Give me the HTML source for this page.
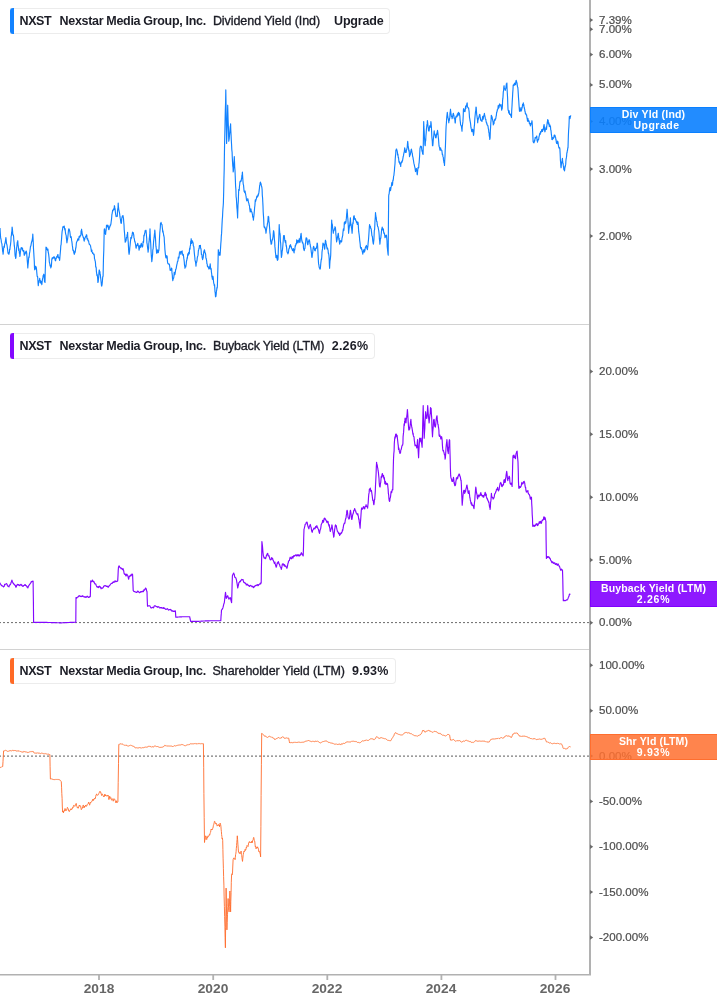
<!DOCTYPE html>
<html><head><meta charset="utf-8"><title>NXST yields</title>
<style>
html,body{margin:0;padding:0;background:#fff;}
body{width:717px;height:1005px;position:relative;overflow:hidden;font-family:"Liberation Sans",Arial,sans-serif;}
.lg{position:absolute;left:10px;height:24px;border:1px solid #ececec;border-left:none;border-radius:0 4px 4px 0;background:#fff;box-sizing:content-box;}
.lg .bar{position:absolute;left:0;top:-1px;width:4px;height:26px;border-radius:3px 0 0 3px;}
.lg span{position:absolute;top:5px;font-size:12.5px;line-height:14px;color:#1c1d26;white-space:nowrap;-webkit-text-stroke:.35px #1c1d26;}
.lg span.b{-webkit-text-stroke:0;}
.lg .b{font-weight:bold;}
.yl{position:absolute;left:599px;transform:scaleX(1.05);transform-origin:0 0;-webkit-text-stroke:.2px #4d4d4d;font-size:11px;line-height:12px;color:#4d4d4d;white-space:nowrap;}
.vb{position:absolute;left:590px;width:127px;height:26px;box-sizing:border-box;border:1px solid;border-right:none;color:#fff;font-weight:bold;font-size:10.5px;line-height:11px;text-align:center;}
.vb div{padding-top:1px;margin-left:-1px;}
.xl{position:absolute;top:982.5px;font-size:12.5px;transform:scaleX(1.1);transform-origin:50% 0;font-weight:bold;color:#666;line-height:13px;white-space:nowrap;}
</style></head><body>

<svg width="717" height="1005" viewBox="0 0 717 1005" style="position:absolute;left:0;top:0">
<rect x="0" y="324" width="589" height="1" fill="#d2d2d2"/>
<rect x="0" y="649" width="589" height="1" fill="#d2d2d2"/>
<line x1="0" y1="622.6" x2="589" y2="622.6" stroke="#6a6a6a" stroke-width="1" stroke-dasharray="2 2" stroke-dashoffset="1"/>
<line x1="0" y1="756.1" x2="589" y2="756.1" stroke="#5a5a5a" stroke-width="1" stroke-dasharray="2 2" stroke-dashoffset="1"/>
<polyline points="0.0,228.1 0.2,231.9 0.5,236.0 0.7,238.2 1.0,239.4 1.2,240.2 1.4,242.4 1.7,243.2 1.9,243.5 2.1,245.9 2.4,248.3 2.6,251.1 2.9,252.1 3.1,254.3 3.3,252.4 3.6,248.6 3.8,247.5 4.0,246.1 4.3,247.4 4.5,245.8 4.7,243.8 5.0,243.6 5.2,242.0 5.4,241.3 5.7,239.0 5.9,237.5 6.2,240.3 6.4,242.7 6.7,244.3 6.9,244.4 7.2,246.5 7.4,248.0 7.7,250.4 7.9,252.2 8.2,253.5 8.4,253.4 8.7,253.5 8.9,254.3 9.2,252.8 9.4,252.2 9.6,249.2 9.9,249.4 10.1,246.9 10.4,245.3 10.6,243.8 10.9,241.0 11.1,236.6 11.4,235.5 11.6,232.6 11.9,231.2 12.1,227.1 12.3,228.2 12.6,231.5 12.8,235.0 13.1,235.0 13.3,234.9 13.6,236.5 13.8,240.0 14.1,242.8 14.3,245.7 14.5,247.0 14.8,250.3 15.0,254.3 15.2,256.3 15.5,256.9 15.7,258.5 15.9,257.6 16.2,253.4 16.4,251.4 16.6,248.2 16.9,246.1 17.1,243.9 17.3,242.0 17.6,242.1 17.8,240.7 18.0,244.5 18.3,246.4 18.5,247.9 18.7,250.5 19.0,248.9 19.2,250.9 19.4,253.2 19.7,253.7 19.9,256.4 20.1,255.3 20.4,251.6 20.6,250.9 20.8,249.2 21.1,248.2 21.3,247.5 21.5,248.7 21.8,248.5 22.0,248.0 22.2,249.4 22.5,248.0 22.7,250.5 22.9,250.0 23.2,251.5 23.4,250.9 23.6,250.5 23.9,250.9 24.1,254.3 24.3,255.3 24.6,254.6 24.8,254.3 25.0,252.8 25.3,252.8 25.5,252.2 25.7,253.2 26.0,251.5 26.2,251.1 26.4,252.0 26.7,253.1 26.9,256.0 27.1,258.1 27.3,260.9 27.6,264.4 27.8,267.9 28.1,264.2 28.3,263.0 28.6,258.8 28.8,256.9 29.1,257.4 29.3,255.3 29.5,253.3 29.8,251.9 30.0,250.4 30.2,248.9 30.5,246.3 30.7,246.2 30.9,245.8 31.2,243.9 31.4,242.8 31.6,241.9 31.9,241.4 32.1,240.2 32.3,239.3 32.6,237.2 32.8,234.0 33.0,237.6 33.3,243.2 33.5,248.8 33.8,253.2 34.0,256.8 34.3,261.5 34.5,267.9 34.7,269.8 35.0,269.1 35.2,269.2 35.4,267.5 35.7,266.2 35.9,266.6 36.1,266.8 36.4,268.2 36.6,270.0 36.8,272.6 37.1,275.8 37.3,276.5 37.6,276.6 37.8,278.7 38.1,283.7 38.3,285.6 38.5,283.0 38.8,282.1 39.0,282.8 39.2,280.3 39.5,280.2 39.7,278.3 39.9,279.7 40.2,280.5 40.4,280.7 40.6,283.0 40.9,282.3 41.1,281.2 41.3,283.3 41.6,282.0 41.8,284.6 42.0,283.2 42.3,280.5 42.5,279.1 42.8,277.9 43.0,276.8 43.3,275.2 43.5,275.2 43.8,274.2 44.0,275.5 44.2,277.1 44.5,281.5 44.8,280.9 45.0,282.5 45.2,272.4 45.5,262.9 45.8,255.1 46.0,247.0 46.2,248.6 46.5,247.6 46.7,247.7 46.9,249.0 47.2,249.9 47.4,249.2 47.6,250.4 47.9,249.0 48.1,251.1 48.3,252.7 48.6,253.9 48.8,255.6 49.1,258.1 49.3,261.8 49.6,263.0 49.8,263.9 50.1,266.0 50.3,266.3 50.6,265.4 50.8,267.9 51.0,266.3 51.3,266.7 51.5,264.3 51.8,259.4 52.0,258.7 52.3,257.8 52.5,258.8 52.8,258.4 53.0,257.7 53.3,257.4 53.5,257.4 53.8,258.0 54.0,256.7 54.2,257.9 54.5,257.3 54.7,257.2 54.9,258.6 55.2,260.3 55.4,259.5 55.6,260.8 55.9,258.7 56.1,258.5 56.3,258.4 56.6,257.4 56.8,256.3 57.0,257.3 57.3,257.1 57.5,256.4 57.7,254.8 58.0,254.6 58.2,256.8 58.4,257.8 58.7,257.3 58.9,257.3 59.1,257.6 59.4,259.2 59.6,260.5 59.8,258.7 60.1,254.6 60.3,252.8 60.6,249.1 60.8,245.6 61.1,244.8 61.3,241.8 61.6,238.5 61.8,235.2 62.1,231.6 62.3,230.5 62.6,229.2 62.8,227.1 63.0,226.7 63.3,227.4 63.5,226.7 63.7,226.6 64.0,226.5 64.2,226.0 64.4,227.5 64.7,229.1 64.9,230.2 65.2,228.7 65.4,232.2 65.7,234.1 65.9,234.6 66.2,235.6 66.4,238.1 66.7,240.7 66.9,242.8 67.1,241.3 67.4,239.7 67.6,239.1 67.8,237.3 68.1,234.5 68.3,232.0 68.5,230.2 68.8,228.9 69.0,230.2 69.2,229.1 69.5,230.5 69.7,231.1 69.9,232.2 70.2,234.7 70.4,237.0 70.6,237.5 70.9,237.5 71.1,236.5 71.3,237.6 71.6,240.4 71.8,241.2 72.1,243.3 72.3,245.4 72.6,247.1 72.8,249.7 73.1,250.7 73.3,250.8 73.6,250.4 73.8,252.8 74.1,253.5 74.3,254.3 74.5,254.0 74.8,251.6 75.0,252.6 75.2,252.1 75.5,250.0 75.7,247.8 75.9,247.9 76.2,245.0 76.4,242.8 76.6,242.1 76.9,241.7 77.1,241.0 77.4,240.8 77.6,239.7 77.8,238.8 78.1,239.8 78.3,239.9 78.5,238.6 78.8,240.2 79.0,236.9 79.3,236.3 79.5,236.5 79.7,237.2 80.0,236.8 80.2,235.7 80.4,235.9 80.7,235.1 80.9,235.1 81.1,230.9 81.4,230.8 81.6,229.2 81.8,231.2 82.1,232.9 82.3,234.5 82.5,234.7 82.8,236.0 83.0,236.3 83.2,237.3 83.5,237.9 83.7,237.5 83.9,240.1 84.2,241.2 84.4,238.6 84.7,239.8 84.9,238.1 85.1,237.8 85.4,237.2 85.6,236.5 85.8,236.9 86.1,236.6 86.3,234.8 86.6,234.8 86.8,235.4 87.0,238.6 87.3,239.1 87.5,238.5 87.8,238.9 88.0,240.7 88.3,240.5 88.5,240.5 88.8,242.2 89.0,243.1 89.3,244.4 89.5,244.5 89.8,244.4 90.0,244.9 90.2,245.4 90.5,245.7 90.7,247.0 91.0,248.5 91.2,249.9 91.4,251.3 91.7,250.8 91.9,250.1 92.1,251.9 92.4,252.6 92.6,253.5 92.9,252.7 93.1,253.2 93.3,253.8 93.6,254.1 93.8,254.7 94.1,254.2 94.3,255.8 94.5,258.7 94.8,259.2 95.0,260.8 95.2,260.8 95.5,263.1 95.7,266.9 96.0,266.8 96.2,267.9 96.4,271.5 96.7,273.6 96.9,275.5 97.2,274.5 97.4,276.0 97.7,278.9 97.9,282.5 98.2,281.8 98.4,279.5 98.7,277.0 98.9,273.1 99.2,270.1 99.4,270.0 99.6,271.5 99.9,271.5 100.1,274.8 100.3,274.3 100.6,277.7 100.8,278.9 101.0,281.0 101.3,283.6 101.5,285.6 101.7,286.1 102.0,284.9 102.2,283.3 102.4,281.3 102.6,278.2 102.9,276.1 103.1,276.2 103.3,266.5 103.5,257.5 103.8,250.2 104.0,240.4 104.2,230.2 104.4,228.9 104.7,229.0 104.9,232.3 105.1,233.4 105.4,233.6 105.6,234.4 105.8,231.7 106.1,230.3 106.3,228.3 106.5,225.2 106.8,226.0 107.0,226.9 107.2,226.4 107.5,226.6 107.7,225.0 107.9,225.3 108.2,225.9 108.4,227.6 108.6,229.3 108.9,229.6 109.1,229.1 109.3,227.7 109.6,226.6 109.8,227.1 110.0,226.3 110.3,224.8 110.5,225.4 110.7,224.8 111.0,223.3 111.2,221.5 111.4,220.1 111.7,217.3 111.9,214.5 112.1,213.8 112.4,211.9 112.6,210.4 112.9,210.9 113.1,209.5 113.4,210.0 113.6,208.9 113.9,209.7 114.1,209.2 114.4,205.7 114.6,206.2 114.8,208.5 115.1,208.5 115.3,211.2 115.6,214.0 115.8,214.8 116.1,216.6 116.3,215.8 116.6,216.2 116.8,216.2 117.0,216.3 117.3,216.3 117.5,211.6 117.7,209.2 118.0,208.0 118.2,203.0 118.4,206.0 118.7,209.1 118.9,210.1 119.2,211.6 119.4,212.4 119.7,214.3 119.9,216.2 120.2,218.2 120.4,218.9 120.7,221.4 120.9,222.9 121.1,223.4 121.4,223.1 121.6,220.5 121.8,217.9 122.1,217.3 122.3,216.0 122.5,215.9 122.8,216.3 123.0,215.6 123.2,216.8 123.5,218.6 123.8,222.7 124.0,224.7 124.2,229.5 124.5,232.7 124.8,236.8 125.0,239.0 125.2,242.2 125.5,241.7 125.7,240.8 126.0,241.0 126.2,239.2 126.4,237.6 126.7,236.9 126.9,236.4 127.1,234.7 127.4,235.0 127.6,232.3 127.8,237.9 128.1,240.3 128.3,243.4 128.6,249.4 128.8,252.3 129.1,254.3 129.3,253.0 129.6,250.4 129.8,247.6 130.1,245.3 130.3,242.9 130.6,240.2 130.8,237.5 131.1,238.9 131.3,237.4 131.6,238.0 131.8,235.6 132.1,235.6 132.3,233.4 132.6,232.1 132.8,232.3 133.0,233.4 133.3,232.7 133.5,233.8 133.8,235.4 134.0,238.0 134.3,238.5 134.5,239.9 134.8,241.8 135.0,241.5 135.3,243.2 135.5,243.9 135.8,246.3 136.0,248.0 136.2,248.2 136.5,245.4 136.7,245.7 137.0,245.6 137.2,244.8 137.4,244.5 137.7,243.3 137.9,243.9 138.1,245.1 138.4,246.3 138.6,246.0 138.9,248.6 139.1,250.1 139.3,248.6 139.6,248.1 139.8,245.7 140.1,245.3 140.3,246.0 140.6,247.3 140.8,246.5 141.1,243.9 141.3,243.4 141.6,244.9 141.8,244.8 142.1,246.2 142.3,247.0 142.5,247.0 142.8,245.7 143.0,242.7 143.2,241.3 143.5,242.5 143.7,239.7 143.9,235.3 144.2,235.9 144.4,234.4 144.6,233.5 144.9,232.7 145.1,230.7 145.3,231.5 145.5,231.7 145.8,230.8 146.0,230.2 146.2,232.2 146.5,236.1 146.7,238.4 146.9,242.8 147.2,244.2 147.4,246.0 147.6,247.9 147.9,249.8 148.1,252.2 148.3,250.1 148.6,248.3 148.8,243.5 149.1,241.7 149.3,238.4 149.5,237.0 149.8,233.4 150.0,228.9 150.2,234.3 150.4,239.4 150.7,243.2 150.9,247.5 151.1,252.1 151.4,256.8 151.6,258.9 151.8,261.7 152.1,259.4 152.3,257.4 152.6,254.4 152.8,249.7 153.1,249.1 153.3,246.4 153.6,241.4 153.8,239.9 154.1,237.7 154.3,235.4 154.6,232.9 154.8,230.0 155.0,231.8 155.2,235.0 155.5,238.6 155.7,242.5 155.9,246.2 156.2,248.0 156.4,250.3 156.6,253.0 156.8,253.3 157.1,252.7 157.3,250.9 157.6,249.9 157.8,250.8 158.1,251.4 158.3,252.7 158.6,250.8 158.8,250.8 159.0,248.6 159.3,242.7 159.5,238.0 159.8,232.5 160.0,230.8 160.3,227.5 160.5,223.4 160.8,223.0 161.0,222.4 161.2,223.0 161.5,224.0 161.8,224.6 162.0,224.5 162.2,226.8 162.5,229.1 162.7,232.0 163.0,230.9 163.2,232.6 163.5,234.0 163.7,235.5 164.0,236.5 164.2,237.7 164.4,241.9 164.7,245.7 164.9,249.5 165.1,251.6 165.3,253.6 165.6,256.2 165.8,257.4 166.0,257.9 166.3,258.0 166.5,256.9 166.7,255.6 167.0,256.2 167.2,256.7 167.4,260.7 167.7,263.1 167.9,263.3 168.1,263.8 168.4,263.7 168.6,263.9 168.8,264.0 169.1,264.4 169.3,264.2 169.6,265.8 169.8,267.1 170.1,270.2 170.3,269.0 170.6,270.5 170.8,270.5 171.0,269.1 171.3,269.4 171.5,268.0 171.8,268.6 172.0,272.9 172.3,275.3 172.5,278.4 172.8,280.6 173.0,279.3 173.2,278.9 173.5,278.2 173.7,277.9 174.0,275.7 174.2,272.2 174.5,274.1 174.7,274.7 175.0,274.2 175.2,272.7 175.4,271.8 175.7,269.1 175.9,269.3 176.2,268.4 176.4,267.1 176.7,265.4 176.9,264.3 177.2,263.3 177.4,261.7 177.6,261.8 177.9,260.8 178.1,259.5 178.3,257.2 178.6,257.6 178.8,258.1 179.0,257.7 179.3,254.2 179.5,252.5 179.7,252.6 180.0,251.4 180.2,251.9 180.4,251.8 180.7,253.3 180.9,254.5 181.1,251.8 181.4,251.7 181.6,251.9 181.9,251.5 182.1,250.8 182.3,253.4 182.6,253.7 182.8,255.2 183.0,255.4 183.3,254.6 183.5,256.0 183.8,258.4 184.0,259.5 184.3,262.1 184.5,265.1 184.8,266.4 185.0,268.3 185.2,266.0 185.5,266.0 185.7,267.0 185.9,266.2 186.2,264.2 186.4,261.9 186.7,260.2 186.9,260.0 187.1,257.7 187.4,258.2 187.6,255.3 187.8,253.9 188.1,254.2 188.3,255.2 188.5,253.0 188.8,252.3 189.0,253.9 189.3,253.7 189.5,249.2 189.8,247.9 190.0,249.2 190.2,246.0 190.5,245.5 190.7,241.1 191.0,241.5 191.2,238.7 191.4,241.0 191.7,243.5 191.9,241.1 192.1,240.5 192.4,242.2 192.6,241.5 192.9,242.7 193.1,242.7 193.3,245.7 193.6,246.3 193.8,246.4 194.0,249.3 194.3,252.9 194.5,254.8 194.8,257.2 195.0,259.9 195.3,261.3 195.5,261.8 195.8,264.5 196.0,266.1 196.2,263.0 196.5,262.7 196.7,261.9 197.0,260.7 197.2,258.4 197.5,256.7 197.7,256.2 198.0,255.4 198.2,253.0 198.4,250.5 198.7,249.7 198.9,248.6 199.2,248.4 199.4,245.6 199.7,245.5 199.9,246.5 200.2,246.4 200.4,245.3 200.6,248.3 200.9,248.5 201.1,249.8 201.4,254.4 201.6,254.1 201.9,254.5 202.1,257.4 202.4,258.5 202.6,259.6 202.8,257.1 203.1,258.2 203.3,256.3 203.5,254.9 203.8,251.4 204.0,251.3 204.2,250.3 204.5,249.8 204.7,250.8 204.9,252.6 205.2,252.7 205.4,253.1 205.7,254.8 205.9,258.2 206.2,258.3 206.4,259.6 206.7,261.1 206.9,263.6 207.2,264.0 207.4,266.1 207.6,266.9 207.9,266.7 208.1,266.4 208.3,267.0 208.6,267.5 208.8,269.0 209.0,267.4 209.3,268.8 209.5,268.3 209.7,266.6 210.0,265.7 210.2,263.9 210.4,265.7 210.7,269.2 210.9,268.4 211.2,268.9 211.4,272.0 211.7,273.8 211.9,276.9 212.2,277.3 212.4,279.3 212.7,276.6 212.9,276.2 213.2,277.9 213.4,280.2 213.7,283.0 213.9,283.6 214.1,284.3 214.3,285.6 214.6,284.9 214.8,288.5 215.0,291.9 215.2,292.5 215.5,296.7 215.7,296.8 215.9,296.4 216.2,294.2 216.4,290.9 216.7,290.3 216.9,287.6 217.2,288.1 217.4,285.8 217.6,277.2 217.9,267.8 218.1,259.3 218.3,249.7 218.5,251.0 218.8,252.0 219.0,252.3 219.2,252.3 219.4,255.1 219.7,254.4 219.9,254.0 220.1,255.2 220.3,252.2 220.6,247.1 220.8,243.9 221.1,240.4 221.3,236.1 221.6,233.4 221.8,228.9 222.0,224.6 222.3,219.1 222.5,217.1 222.7,212.7 222.9,209.3 223.2,205.7 223.4,202.6 223.7,190.9 223.9,180.4 224.2,169.1 224.4,154.4 224.6,143.2 224.9,129.8 225.1,119.4 225.3,111.0 225.6,101.9 225.8,89.9 226.0,102.2 226.2,115.7 226.4,130.2 226.6,143.5 226.8,138.2 227.0,130.8 227.3,122.8 227.5,113.6 227.7,105.2 227.9,112.6 228.1,119.6 228.4,127.2 228.6,135.9 228.8,141.3 229.0,139.6 229.2,139.0 229.5,135.2 229.7,133.0 229.9,130.5 230.2,127.0 230.4,126.2 230.6,123.8 230.8,130.1 231.1,135.5 231.3,140.0 231.6,145.2 231.8,149.6 232.1,152.3 232.3,157.5 232.5,161.4 232.8,166.2 233.0,167.3 233.2,172.0 233.4,170.5 233.6,167.8 233.9,162.5 234.1,160.1 234.3,156.6 234.5,161.5 234.7,166.7 235.0,170.6 235.2,175.6 235.4,180.7 235.6,186.3 235.9,189.8 236.1,196.6 236.4,198.7 236.6,202.3 236.9,207.6 237.1,209.2 237.4,213.7 237.6,217.9 237.8,211.3 238.0,205.2 238.3,201.4 238.5,195.0 238.7,189.5 238.9,189.4 239.2,190.4 239.4,187.0 239.7,184.5 239.9,182.1 240.2,181.1 240.4,181.3 240.7,181.7 240.9,180.7 241.2,180.9 241.4,179.0 241.7,178.2 241.9,175.4 242.2,174.7 242.4,172.0 242.6,175.5 242.8,178.6 243.1,183.0 243.3,184.5 243.5,184.9 243.8,188.0 244.0,190.4 244.2,191.7 244.4,190.8 244.7,192.6 244.9,190.9 245.1,191.1 245.4,193.3 245.6,193.8 245.8,195.2 246.1,196.6 246.3,198.2 246.5,199.8 246.8,200.9 247.0,200.7 247.3,199.4 247.5,199.3 247.8,198.7 248.0,199.5 248.3,201.3 248.5,202.6 248.7,202.8 249.0,204.2 249.2,205.3 249.5,205.7 249.7,208.5 250.0,210.4 250.2,212.0 250.5,211.5 250.7,209.2 250.9,208.9 251.2,211.0 251.4,211.3 251.7,211.9 251.9,212.2 252.2,213.4 252.4,214.0 252.7,216.9 252.9,217.4 253.2,217.6 253.4,220.1 253.6,218.0 253.9,215.9 254.1,213.6 254.4,210.5 254.6,207.8 254.9,205.5 255.1,202.6 255.3,199.9 255.6,201.5 255.8,200.6 256.0,199.7 256.3,199.0 256.5,197.8 256.8,196.5 257.0,196.1 257.2,197.1 257.5,196.4 257.7,196.8 257.9,194.8 258.2,195.6 258.4,193.9 258.6,194.1 258.9,192.4 259.1,190.9 259.4,188.5 259.6,186.2 259.9,185.2 260.1,183.2 260.4,182.1 260.6,182.9 260.9,183.3 261.1,184.3 261.4,185.7 261.6,186.3 261.9,187.7 262.1,189.5 262.3,195.1 262.6,198.3 262.8,202.2 263.0,206.2 263.2,212.0 263.4,214.9 263.7,219.3 263.9,224.5 264.1,226.9 264.4,227.5 264.6,227.8 264.8,227.0 265.1,227.9 265.3,229.1 265.5,228.8 265.8,231.5 266.0,233.3 266.2,231.4 266.5,229.2 266.7,228.2 267.0,226.3 267.2,225.4 267.5,223.2 267.7,223.0 268.0,219.3 268.2,216.3 268.5,217.1 268.7,216.9 268.9,221.3 269.2,222.5 269.4,225.6 269.7,229.2 269.9,232.6 270.2,234.6 270.4,238.7 270.7,241.5 270.9,242.0 271.1,244.2 271.4,243.3 271.6,243.9 271.8,242.0 272.1,239.7 272.3,239.8 272.5,239.9 272.8,237.9 273.0,237.2 273.2,234.4 273.5,230.7 273.7,231.1 273.9,232.0 274.2,235.4 274.4,239.2 274.7,242.0 274.9,246.4 275.2,249.3 275.4,252.1 275.7,254.5 275.9,257.4 276.1,257.7 276.4,256.3 276.6,256.1 276.9,255.4 277.1,259.0 277.4,260.4 277.6,259.2 277.9,259.8 278.1,257.4 278.3,250.1 278.5,245.2 278.8,238.0 279.0,232.3 279.2,224.5 279.4,228.5 279.7,232.4 279.9,232.9 280.2,235.3 280.4,241.1 280.7,243.5 280.9,248.4 281.2,254.1 281.4,257.4 281.6,256.5 281.9,254.7 282.1,251.7 282.4,250.2 282.6,248.5 282.9,245.0 283.1,242.2 283.4,238.2 283.6,235.5 283.8,236.7 284.1,236.7 284.3,235.6 284.5,237.8 284.8,240.7 285.0,240.8 285.2,242.2 285.5,242.6 285.7,240.5 286.0,244.5 286.2,246.2 286.4,245.6 286.7,248.6 286.9,250.8 287.1,252.1 287.4,252.5 287.6,252.6 287.9,254.0 288.1,253.1 288.4,252.8 288.6,250.9 288.9,248.8 289.1,248.5 289.4,248.3 289.6,245.7 289.9,245.6 290.1,246.4 290.3,244.9 290.6,244.7 290.8,247.0 291.0,246.1 291.3,247.0 291.5,248.2 291.8,248.6 292.0,248.9 292.2,249.8 292.5,250.4 292.7,250.7 292.9,249.0 293.2,249.5 293.4,248.6 293.6,249.9 293.9,252.1 294.1,252.9 294.3,249.5 294.6,250.2 294.8,249.7 295.0,247.6 295.3,245.4 295.5,246.1 295.8,244.6 296.0,243.9 296.2,243.3 296.5,243.9 296.7,239.8 296.9,241.8 297.2,241.1 297.4,241.0 297.6,242.2 297.9,243.0 298.1,240.4 298.4,241.6 298.6,241.8 298.8,240.8 299.1,240.4 299.3,238.7 299.5,240.1 299.8,242.4 300.0,242.0 300.2,240.6 300.4,237.9 300.7,236.2 300.9,234.1 301.1,233.3 301.4,236.6 301.6,238.9 301.9,241.2 302.1,240.9 302.4,243.0 302.6,243.1 302.8,242.5 303.1,244.0 303.3,244.4 303.5,248.2 303.7,249.0 303.9,249.1 304.2,250.7 304.4,249.7 304.6,248.5 304.9,248.5 305.1,246.2 305.4,243.4 305.6,242.8 305.9,239.3 306.1,237.7 306.3,237.7 306.6,238.7 306.8,238.3 307.0,239.7 307.2,241.1 307.5,244.0 307.7,244.2 307.9,244.8 308.2,242.5 308.4,241.4 308.7,241.7 308.9,240.0 309.2,239.8 309.4,239.9 309.7,241.8 309.9,243.8 310.2,244.5 310.4,246.6 310.7,247.2 310.9,248.6 311.1,250.3 311.3,252.1 311.6,253.9 311.8,257.2 312.0,257.4 312.2,256.2 312.5,252.8 312.7,252.9 312.9,250.4 313.1,248.6 313.4,246.9 313.6,246.4 313.8,247.1 314.1,247.8 314.3,249.0 314.6,249.6 314.8,250.7 315.1,250.4 315.3,250.8 315.5,248.3 315.8,248.4 316.0,248.6 316.2,248.6 316.4,248.0 316.7,246.3 316.9,246.1 317.1,243.1 317.4,243.6 317.6,245.7 317.9,251.4 318.1,255.4 318.4,261.1 318.6,263.9 318.9,265.0 319.1,266.8 319.4,267.8 319.6,268.0 319.9,269.1 320.1,268.3 320.3,269.0 320.6,265.8 320.8,263.2 321.0,261.6 321.3,259.0 321.5,259.6 321.8,256.8 322.0,252.2 322.2,250.7 322.5,248.9 322.8,244.7 323.0,243.1 323.2,244.9 323.5,244.5 323.8,244.0 324.0,244.6 324.2,246.3 324.5,248.6 324.7,249.2 324.9,247.3 325.1,243.7 325.4,240.2 325.6,240.8 325.8,240.9 326.0,243.3 326.3,244.1 326.5,245.1 326.7,246.6 326.9,248.0 327.2,249.0 327.4,248.6 327.6,248.0 327.8,249.3 328.1,250.3 328.3,253.2 328.5,253.0 328.7,254.2 328.9,255.4 329.2,259.1 329.4,265.0 329.6,268.3 329.8,263.9 330.0,261.0 330.3,259.5 330.5,257.5 330.7,255.2 330.9,247.3 331.2,237.7 331.4,228.7 331.7,220.1 331.9,224.6 332.2,223.8 332.4,225.2 332.6,227.8 332.8,229.6 333.1,231.5 333.3,233.3 333.5,230.9 333.8,230.3 334.0,230.8 334.3,229.1 334.5,228.5 334.8,228.8 335.0,226.7 335.2,227.9 335.4,227.6 335.7,230.9 335.9,234.5 336.1,235.6 336.4,239.5 336.6,241.9 336.8,240.9 337.1,239.7 337.3,238.2 337.6,237.0 337.8,236.1 338.1,233.7 338.3,233.3 338.5,235.1 338.8,238.9 339.0,240.1 339.2,238.2 339.4,242.1 339.7,244.1 339.9,243.1 340.1,242.1 340.4,240.8 340.6,241.7 340.9,240.7 341.1,241.9 341.4,241.0 341.6,242.0 341.8,240.2 342.1,237.7 342.3,237.4 342.5,236.1 342.7,235.8 342.9,232.7 343.2,230.3 343.4,228.9 343.6,230.7 343.9,230.4 344.1,227.5 344.3,222.6 344.6,224.2 344.8,223.9 345.0,221.5 345.3,222.0 345.5,222.3 345.7,223.2 346.0,221.7 346.2,219.2 346.4,218.4 346.6,214.8 346.9,212.3 347.1,209.2 347.4,213.3 347.6,216.5 347.9,219.5 348.1,223.0 348.4,228.4 348.6,233.3 348.8,230.6 349.1,228.7 349.3,227.1 349.5,225.2 349.7,225.3 349.9,223.1 350.2,221.1 350.4,217.9 350.6,221.6 350.9,225.7 351.1,224.1 351.4,227.4 351.6,228.2 351.9,230.9 352.1,233.3 352.4,229.3 352.6,225.3 352.9,222.6 353.1,223.7 353.4,219.8 353.6,216.9 353.8,216.3 354.1,215.7 354.3,216.9 354.6,219.3 354.8,219.0 355.1,219.3 355.3,218.6 355.6,220.4 355.8,220.1 356.0,221.2 356.3,221.1 356.5,222.7 356.8,222.8 357.0,221.9 357.3,224.5 357.5,222.2 357.8,222.6 358.0,222.3 358.2,223.6 358.5,228.8 358.7,231.7 359.0,233.7 359.2,235.0 359.5,237.9 359.7,240.4 360.0,242.6 360.2,244.2 360.4,247.0 360.7,248.1 360.9,248.6 361.1,247.8 361.4,247.6 361.6,249.4 361.9,249.2 362.1,250.9 362.3,251.5 362.6,252.8 362.8,254.1 363.0,252.5 363.3,251.2 363.5,250.1 363.8,249.9 364.0,252.1 364.2,252.2 364.5,249.5 364.7,251.4 365.0,250.2 365.2,248.3 365.5,247.5 365.7,246.4 365.9,246.3 366.2,245.8 366.4,245.4 366.7,246.6 366.9,248.4 367.2,248.1 367.4,249.7 367.6,247.8 367.9,246.2 368.1,243.4 368.4,240.6 368.6,238.5 368.9,234.1 369.1,231.0 369.4,226.4 369.6,224.5 369.8,225.4 370.1,226.8 370.3,227.0 370.5,226.6 370.7,228.5 371.0,228.6 371.2,228.9 371.4,230.9 371.7,233.5 371.9,235.6 372.2,236.2 372.4,236.8 372.7,240.1 372.9,241.7 373.2,243.4 373.4,244.2 373.6,242.2 373.9,239.7 374.1,235.8 374.3,230.4 374.6,229.6 374.8,225.7 375.0,221.0 375.3,217.2 375.5,212.5 375.7,214.8 376.0,216.4 376.2,217.2 376.5,220.4 376.7,221.6 377.0,221.5 377.2,224.2 377.5,225.8 377.7,226.7 377.9,226.6 378.2,227.7 378.4,229.0 378.7,230.4 378.9,231.8 379.2,235.5 379.4,238.9 379.7,241.4 379.9,244.2 380.1,242.1 380.4,238.7 380.6,238.0 380.8,238.3 381.0,235.9 381.3,233.5 381.5,231.1 381.7,228.8 382.0,229.0 382.2,227.1 382.5,228.3 382.7,229.9 383.0,229.5 383.2,228.9 383.4,229.2 383.6,231.8 383.9,233.3 384.1,232.8 384.3,232.9 384.6,235.0 384.8,235.7 385.0,237.7 385.2,236.6 385.5,237.0 385.8,235.4 386.0,235.3 386.2,235.2 386.5,235.5 386.7,237.8 387.0,240.8 387.2,246.8 387.5,249.3 387.7,251.2 388.0,254.0 388.2,255.2 388.4,225.3 388.7,196.0 388.9,194.2 389.1,194.1 389.4,191.2 389.6,189.5 389.8,188.4 390.0,187.6 390.3,188.2 390.5,190.7 390.8,188.8 391.0,187.3 391.3,186.2 391.5,185.1 391.7,183.1 392.0,182.4 392.2,183.4 392.4,185.3 392.6,183.9 392.9,180.0 393.1,180.7 393.4,178.6 393.6,176.0 393.9,175.4 394.1,173.2 394.4,170.8 394.6,167.6 394.8,165.7 395.0,163.7 395.2,159.5 395.5,155.6 395.7,154.1 395.9,150.1 396.1,149.8 396.4,149.1 396.6,149.0 396.9,150.4 397.1,150.7 397.4,152.3 397.6,154.9 397.9,154.1 398.1,156.0 398.3,157.8 398.5,157.5 398.8,160.3 399.0,162.1 399.2,161.4 399.5,162.0 399.7,163.3 400.0,164.2 400.2,163.4 400.5,163.4 400.7,166.5 400.9,163.8 401.1,162.9 401.4,161.9 401.6,162.8 401.8,162.6 402.1,161.8 402.3,160.4 402.5,161.0 402.7,159.5 403.0,157.8 403.2,156.4 403.5,155.7 403.7,154.2 404.0,152.9 404.2,152.3 404.5,149.8 404.7,147.9 404.9,148.8 405.2,150.6 405.4,152.2 405.7,152.4 405.9,151.9 406.2,152.3 406.4,150.1 406.7,149.7 406.9,149.0 407.2,147.5 407.4,144.6 407.7,141.3 407.9,143.0 408.1,145.4 408.4,147.5 408.6,148.7 408.8,151.0 409.1,150.0 409.3,153.1 409.5,156.6 409.7,155.9 410.0,155.3 410.2,154.1 410.5,154.3 410.7,152.2 411.0,150.5 411.2,150.1 411.4,149.1 411.7,150.7 411.9,152.1 412.1,153.0 412.3,153.3 412.6,156.4 412.8,156.6 413.0,157.7 413.3,159.6 413.5,160.5 413.8,162.8 414.0,163.7 414.3,164.9 414.5,165.8 414.8,167.5 415.0,167.6 415.2,169.5 415.5,171.6 415.7,171.0 415.9,169.8 416.2,168.8 416.4,168.5 416.6,170.2 416.9,171.0 417.1,174.2 417.3,174.8 417.6,171.4 417.8,169.4 418.0,167.6 418.2,168.3 418.5,167.8 418.7,167.6 418.9,163.6 419.1,163.4 419.4,159.0 419.6,156.1 419.8,152.0 420.0,147.9 420.2,147.8 420.5,146.2 420.8,146.6 421.0,146.8 421.2,146.4 421.5,146.8 421.7,149.0 422.0,151.2 422.2,150.4 422.4,152.0 422.6,153.9 422.9,154.2 423.1,154.4 423.3,144.2 423.5,133.2 423.7,121.6 423.9,126.9 424.2,131.5 424.4,137.2 424.7,140.1 424.9,144.8 425.2,145.7 425.4,141.7 425.7,140.7 425.9,136.2 426.2,132.9 426.4,129.2 426.7,126.7 426.9,125.0 427.2,123.9 427.4,120.5 427.6,122.0 427.8,124.3 428.1,126.8 428.3,127.6 428.5,130.4 428.8,129.6 429.0,131.1 429.2,130.4 429.4,128.3 429.7,125.8 429.9,126.6 430.2,127.3 430.4,126.9 430.7,125.6 430.9,121.6 431.1,123.1 431.4,127.0 431.6,131.6 431.8,135.9 432.0,138.7 432.3,141.3 432.5,145.7 432.8,145.7 433.0,143.7 433.2,140.7 433.5,137.6 433.8,135.2 434.0,132.6 434.2,130.9 434.4,133.2 434.7,133.9 434.9,134.9 435.1,134.5 435.4,136.1 435.6,137.6 435.8,136.9 436.0,137.9 436.3,136.6 436.5,133.9 436.8,134.6 437.0,133.0 437.3,132.0 437.5,130.4 437.8,132.4 438.0,133.9 438.2,136.2 438.5,138.9 438.8,143.1 439.0,145.7 439.2,146.5 439.5,147.3 439.7,148.5 439.9,149.8 440.1,150.4 440.4,149.0 440.6,147.9 440.8,149.2 441.1,149.6 441.3,150.0 441.6,150.2 441.8,150.2 442.1,152.5 442.3,154.4 442.5,154.0 442.8,155.4 443.0,156.7 443.3,157.3 443.5,159.9 443.8,161.5 444.0,162.8 444.3,162.9 444.5,165.4 444.7,160.7 445.0,156.0 445.2,150.1 445.4,147.0 445.7,137.9 445.9,131.1 446.1,126.8 446.4,123.0 446.6,119.5 446.8,116.7 447.1,114.2 447.3,112.3 447.6,115.1 447.8,117.0 448.1,118.2 448.3,119.1 448.6,120.7 448.8,122.8 449.0,120.1 449.3,120.5 449.5,118.7 449.8,118.0 450.0,113.1 450.3,111.5 450.5,109.2 450.7,111.7 451.0,113.8 451.2,114.9 451.4,116.5 451.6,116.8 451.9,116.4 452.1,118.6 452.4,117.1 452.6,116.4 452.9,115.0 453.1,113.8 453.4,113.3 453.6,114.4 453.9,115.2 454.1,118.2 454.4,117.9 454.6,118.9 454.9,119.9 455.1,122.8 455.3,123.0 455.6,118.4 455.8,116.9 456.0,117.5 456.2,116.0 456.5,116.6 456.7,116.5 456.9,116.8 457.2,114.8 457.4,113.9 457.7,115.8 457.9,114.5 458.2,113.0 458.4,112.3 458.6,114.4 458.9,115.0 459.1,113.5 459.4,113.2 459.6,114.5 459.9,116.5 460.1,120.1 460.4,122.4 460.6,124.7 460.8,125.0 461.1,125.9 461.3,125.8 461.5,127.2 461.8,129.4 462.0,131.1 462.2,127.0 462.5,124.9 462.7,123.2 462.9,121.9 463.2,116.2 463.4,110.2 463.6,108.7 463.9,109.3 464.1,110.6 464.4,111.5 464.6,111.4 464.9,111.7 465.1,111.3 465.3,108.9 465.6,106.1 465.8,108.7 466.0,106.8 466.3,106.0 466.5,105.2 466.7,104.8 467.0,103.2 467.2,102.9 467.4,106.7 467.7,107.1 467.9,107.6 468.1,107.5 468.4,108.3 468.6,107.9 468.8,109.5 469.1,111.6 469.3,114.4 469.5,117.7 469.8,118.9 470.0,120.8 470.2,121.4 470.5,123.1 470.7,124.9 470.9,127.2 471.2,128.7 471.4,129.0 471.6,131.1 471.9,131.7 472.1,130.7 472.3,129.3 472.6,130.9 472.8,129.4 473.0,131.1 473.3,133.8 473.5,135.3 473.8,133.3 474.0,131.1 474.2,127.3 474.5,124.6 474.8,119.1 475.0,116.9 475.2,114.8 475.5,111.9 475.8,110.3 476.0,107.1 476.2,107.4 476.5,111.8 476.7,114.4 477.0,116.1 477.2,118.0 477.5,120.0 477.7,122.8 477.9,120.3 478.2,119.5 478.4,118.2 478.7,118.2 478.9,116.9 479.2,116.8 479.4,114.8 479.7,114.4 479.9,114.7 480.2,116.9 480.4,118.1 480.6,120.1 480.9,120.3 481.1,120.2 481.3,120.9 481.6,120.3 481.8,120.7 482.0,121.4 482.3,119.0 482.5,117.3 482.7,116.4 483.0,117.5 483.2,119.3 483.4,117.6 483.7,116.0 483.9,115.4 484.1,115.2 484.4,113.4 484.6,114.8 484.8,116.0 485.1,117.0 485.3,118.4 485.5,119.3 485.8,119.2 486.0,120.7 486.2,121.8 486.5,123.1 486.7,122.8 486.9,124.0 487.2,125.1 487.4,125.1 487.6,125.2 487.9,125.8 488.1,126.9 488.3,128.6 488.6,129.6 488.8,132.2 489.1,133.1 489.3,135.9 489.6,137.3 489.8,139.5 490.1,137.8 490.3,131.8 490.6,126.9 490.8,123.0 491.1,119.7 491.3,115.4 491.6,115.8 491.8,116.6 492.1,116.9 492.3,118.7 492.6,119.4 492.8,120.8 493.1,122.4 493.3,124.9 493.5,124.0 493.8,123.3 494.0,123.7 494.2,120.8 494.5,120.7 494.7,119.4 494.9,120.4 495.2,119.9 495.4,118.6 495.6,119.2 495.9,117.8 496.1,116.0 496.3,115.9 496.6,112.7 496.8,111.8 497.0,112.0 497.3,109.7 497.5,110.2 497.7,109.3 498.0,108.2 498.2,105.5 498.4,106.9 498.7,108.1 498.9,107.2 499.1,107.2 499.4,104.3 499.6,103.9 499.8,105.3 500.1,105.2 500.3,105.3 500.5,106.0 500.8,105.9 501.0,104.6 501.2,106.5 501.5,108.5 501.7,110.2 501.9,109.1 502.2,108.4 502.4,106.0 502.6,100.2 502.9,98.2 503.1,95.4 503.3,91.9 503.6,90.5 503.8,87.2 504.1,85.7 504.3,88.9 504.6,88.4 504.8,88.7 505.1,89.5 505.3,90.3 505.5,89.0 505.8,88.4 506.0,87.1 506.2,85.3 506.4,83.7 506.7,83.3 506.9,83.0 507.1,89.1 507.3,92.7 507.6,98.0 507.8,104.2 508.0,109.2 508.2,110.3 508.5,110.9 508.7,112.9 508.9,110.5 509.2,111.2 509.4,113.0 509.6,114.4 509.9,114.2 510.1,114.4 510.3,114.1 510.6,114.8 510.8,115.9 511.0,115.3 511.3,116.8 511.5,117.5 511.7,110.8 512.0,106.3 512.2,102.1 512.5,97.2 512.7,93.3 513.0,89.2 513.2,85.1 513.4,84.9 513.7,85.3 513.9,84.7 514.2,85.5 514.4,83.3 514.7,83.5 514.9,83.0 515.1,83.3 515.4,84.6 515.6,84.6 515.9,81.3 516.1,80.3 516.4,80.9 516.6,82.0 516.9,82.8 517.1,83.4 517.3,85.7 517.6,87.1 517.8,87.2 518.0,89.5 518.3,94.1 518.5,97.6 518.8,101.5 519.0,104.9 519.3,108.6 519.5,111.3 519.7,110.1 520.0,108.9 520.2,107.9 520.4,110.2 520.7,111.1 520.9,111.2 521.1,111.1 521.4,109.2 521.6,110.2 521.8,107.4 522.1,108.1 522.3,106.8 522.6,104.4 522.8,105.7 523.1,103.8 523.3,102.9 523.5,104.6 523.8,104.5 524.0,107.0 524.2,107.2 524.5,108.8 524.7,109.2 524.9,111.4 525.2,111.7 525.4,113.8 525.6,113.3 525.9,113.8 526.1,114.7 526.3,115.0 526.6,114.9 526.8,116.5 527.0,118.0 527.3,119.2 527.5,121.3 527.7,118.8 528.0,118.6 528.2,120.2 528.4,120.8 528.7,121.5 528.9,120.7 529.1,121.0 529.4,123.6 529.6,123.8 529.9,123.3 530.1,123.7 530.4,125.9 530.6,125.3 530.9,123.3 531.1,123.8 531.3,123.6 531.5,123.9 531.8,121.9 532.0,120.7 532.2,123.4 532.4,126.9 532.7,132.2 532.9,137.1 533.1,141.6 533.3,142.1 533.6,142.7 533.8,142.7 534.0,142.8 534.3,141.6 534.5,140.2 534.7,141.1 535.0,138.9 535.2,137.4 535.4,137.5 535.7,138.1 535.9,137.6 536.1,137.4 536.4,136.7 536.6,136.1 536.8,136.0 537.1,140.6 537.3,139.5 537.5,142.2 537.8,140.2 538.0,140.0 538.2,139.5 538.5,139.9 538.7,139.1 538.9,137.3 539.2,136.1 539.4,135.3 539.6,133.7 539.9,134.0 540.1,134.4 540.3,132.9 540.6,131.5 540.8,132.9 541.0,132.0 541.3,131.5 541.5,131.1 541.7,129.7 542.0,129.8 542.2,129.4 542.4,131.5 542.7,130.5 542.9,130.3 543.1,128.8 543.4,129.5 543.6,126.9 543.9,125.3 544.1,124.5 544.4,127.5 544.6,129.8 544.9,131.9 545.1,131.3 545.4,128.8 545.6,129.0 545.8,129.1 546.1,127.0 546.3,128.2 546.5,129.5 546.8,126.0 547.0,124.3 547.2,122.7 547.5,121.1 547.7,119.6 547.9,120.1 548.2,120.3 548.4,124.0 548.6,123.9 548.9,122.8 549.1,124.8 549.3,126.6 549.6,125.6 549.8,124.9 550.0,126.2 550.3,125.9 550.5,126.7 550.7,129.7 551.0,130.5 551.2,132.6 551.4,134.7 551.7,136.4 551.9,139.5 552.1,138.9 552.4,139.6 552.6,139.2 552.8,137.6 553.1,138.8 553.3,138.4 553.5,138.2 553.8,137.7 554.0,136.4 554.2,135.1 554.5,136.6 554.7,135.6 554.9,135.2 555.2,136.2 555.4,137.4 555.6,137.4 555.9,139.9 556.1,139.5 556.3,142.1 556.6,143.5 556.8,143.3 557.0,142.6 557.3,143.7 557.5,141.1 557.7,141.6 558.0,142.1 558.2,143.7 558.5,146.0 558.7,146.9 559.0,148.0 559.2,147.2 559.5,148.4 559.7,147.9 559.9,149.3 560.2,154.7 560.4,160.1 560.7,163.2 560.9,166.7 561.1,167.8 561.4,164.0 561.6,164.0 561.9,161.6 562.1,160.4 562.4,158.3 562.6,160.8 562.9,162.9 563.1,163.3 563.3,165.4 563.6,167.1 563.8,169.5 564.0,168.7 564.3,170.3 564.5,170.9 564.7,169.6 565.0,166.0 565.2,167.2 565.4,165.5 565.7,164.4 565.9,160.9 566.1,159.0 566.4,157.7 566.6,156.2 566.8,153.4 567.1,152.5 567.3,150.7 567.5,150.5 567.8,147.7 568.0,147.9 568.2,141.6 568.4,135.2 568.6,130.8 568.9,126.6 569.1,122.2 569.3,116.5 569.5,116.9 569.8,116.4 570.0,118.6 570.3,117.0 570.5,116.2 570.8,115.4" fill="none" stroke="#1282ff" stroke-width="1.15" stroke-linejoin="round"/>
<polyline points="0.0,582.7 0.3,584.0 0.6,584.1 0.8,584.6 1.1,584.9 1.4,585.6 1.7,585.3 2.0,585.7 2.3,585.9 2.6,586.0 2.9,586.2 3.2,586.6 3.5,587.0 3.8,586.4 4.1,586.4 4.3,586.0 4.6,584.4 4.9,584.8 5.2,584.4 5.5,584.0 5.8,584.0 6.0,584.0 6.3,584.0 6.6,583.5 6.8,584.2 7.1,584.2 7.3,585.5 7.6,585.6 7.8,586.2 8.1,586.3 8.4,586.5 8.7,586.5 9.0,586.8 9.3,585.3 9.6,585.3 9.8,584.9 10.1,584.3 10.3,584.7 10.6,583.9 10.8,583.5 11.1,582.3 11.4,582.1 11.6,581.1 11.9,580.1 12.2,580.9 12.5,581.9 12.8,582.6 13.1,583.3 13.3,583.3 13.6,583.5 13.9,584.4 14.2,584.1 14.5,584.9 14.8,584.8 15.1,585.4 15.4,585.6 15.7,587.0 16.0,587.2 16.3,586.8 16.5,585.8 16.8,585.3 17.1,585.0 17.4,584.4 17.7,584.5 17.9,585.0 18.2,584.9 18.4,584.7 18.7,585.1 18.9,584.9 19.2,585.3 19.5,585.1 19.8,585.7 20.0,585.4 20.3,584.9 20.6,584.8 20.9,584.4 21.2,584.4 21.4,584.8 21.7,585.6 21.9,585.0 22.2,585.5 22.4,585.8 22.7,586.2 23.0,586.4 23.3,585.7 23.5,585.9 23.8,585.6 24.1,585.5 24.4,585.3 24.7,585.0 24.9,584.6 25.2,584.5 25.4,585.3 25.7,585.6 25.9,585.7 26.2,585.8 26.5,585.7 26.8,586.2 27.0,587.2 27.3,586.8 27.6,587.3 27.9,587.9 28.2,586.9 28.5,586.1 28.8,585.6 29.0,585.4 29.3,584.8 29.6,584.4 29.9,584.0 30.2,583.8 30.5,583.2 30.8,582.8 31.1,582.0 31.4,581.7 31.7,581.8 32.0,581.5 32.3,581.3 32.5,581.4 32.8,581.1 33.1,581.3 33.4,602.1 33.6,622.4 33.9,622.4 34.2,622.4 34.5,622.4 34.8,622.4 35.1,622.4 35.4,622.4 35.7,622.4 36.0,622.4 36.3,622.4 36.6,622.4 36.9,622.4 37.2,622.4 37.5,622.4 37.8,622.4 38.1,622.4 38.4,622.4 38.7,622.4 39.0,622.4 39.3,622.4 39.6,622.4 39.9,622.4 40.2,622.4 40.5,622.4 40.8,622.4 41.1,622.4 41.4,622.4 41.7,622.4 42.0,622.4 42.3,622.4 42.6,622.4 42.9,622.4 43.2,622.4 43.5,622.4 43.8,622.4 44.1,622.4 44.4,622.4 44.7,622.4 45.0,622.4 45.3,622.4 45.6,622.4 45.9,622.4 46.2,622.4 46.5,622.4 46.8,622.4 47.1,622.4 47.4,622.5 47.7,622.5 48.0,622.5 48.3,622.5 48.6,622.5 48.9,622.5 49.2,622.5 49.4,622.5 49.7,622.5 50.0,622.5 50.3,622.5 50.6,622.5 50.9,622.5 51.2,622.6 51.5,622.6 51.8,622.6 52.1,622.6 52.4,622.6 52.7,622.6 53.0,622.6 53.3,622.6 53.6,622.6 53.9,622.6 54.2,622.6 54.5,622.6 54.8,622.6 55.1,622.6 55.4,622.7 55.7,622.7 56.0,622.7 56.3,622.7 56.6,622.7 56.9,622.7 57.1,622.7 57.4,622.7 57.7,622.7 58.0,622.7 58.3,622.7 58.6,622.7 58.9,622.7 59.2,622.8 59.5,622.8 59.8,622.8 60.1,622.8 60.4,622.8 60.7,622.8 61.0,622.8 61.3,622.8 61.6,622.8 61.9,622.8 62.2,622.8 62.5,622.7 62.8,622.7 63.1,622.7 63.4,622.7 63.7,622.7 64.0,622.7 64.3,622.7 64.6,622.7 64.8,622.6 65.1,622.6 65.4,622.6 65.7,622.6 66.0,622.6 66.3,622.6 66.6,622.6 66.9,622.6 67.2,622.5 67.5,622.5 67.8,622.5 68.1,622.5 68.4,622.5 68.7,622.5 69.0,622.5 69.3,622.5 69.6,622.5 69.9,622.4 70.2,622.4 70.5,622.4 70.8,622.4 71.1,622.4 71.4,622.4 71.7,622.4 72.0,622.4 72.2,622.3 72.5,622.3 72.8,622.3 73.1,622.3 73.4,622.3 73.7,622.3 74.0,622.3 74.3,622.3 74.6,622.2 74.9,622.2 75.2,622.2 75.5,622.2 75.8,622.2 76.0,597.5 76.3,597.5 76.6,597.5 76.8,598.1 77.1,597.4 77.4,597.2 77.7,597.0 77.9,596.8 78.2,596.9 78.5,596.6 78.8,596.1 79.1,595.6 79.4,595.7 79.7,595.9 79.9,596.1 80.2,596.5 80.5,596.2 80.8,596.5 81.1,596.6 81.4,596.5 81.7,596.2 81.9,596.5 82.2,596.2 82.5,596.1 82.8,595.7 83.1,596.5 83.4,596.7 83.7,596.7 84.0,596.8 84.2,596.9 84.5,597.2 84.8,596.8 85.1,596.6 85.4,597.0 85.7,597.4 86.0,597.1 86.3,597.2 86.6,597.1 86.9,596.4 87.2,596.3 87.5,596.2 87.8,596.8 88.1,597.1 88.3,597.3 88.6,597.2 88.9,597.5 89.2,596.7 89.5,596.7 89.7,597.0 90.0,596.5 90.3,596.6 90.5,589.1 90.7,580.9 91.0,581.6 91.3,581.8 91.5,581.7 91.8,580.9 92.1,580.6 92.4,580.1 92.7,581.3 93.0,581.6 93.2,581.7 93.5,581.2 93.8,582.2 94.1,581.8 94.4,582.8 94.6,583.5 94.9,583.9 95.1,583.9 95.4,584.1 95.6,583.8 95.9,584.4 96.2,585.4 96.5,586.1 96.8,586.8 97.0,586.8 97.3,587.2 97.6,587.0 97.9,586.6 98.1,586.7 98.4,587.6 98.6,587.5 98.9,587.3 99.1,586.3 99.4,586.2 99.7,586.5 100.0,586.6 100.2,586.6 100.5,587.4 100.8,587.9 101.1,588.8 101.4,588.3 101.6,587.9 101.9,588.1 102.1,588.1 102.4,588.0 102.6,588.2 102.9,587.9 103.2,587.3 103.5,586.9 103.8,586.1 104.0,586.1 104.3,585.7 104.6,585.8 104.9,586.0 105.2,585.6 105.4,585.6 105.7,586.0 106.0,585.9 106.3,586.2 106.6,586.5 106.9,586.4 107.2,586.7 107.5,586.2 107.8,586.9 108.1,587.0 108.4,587.2 108.7,586.4 108.9,586.1 109.2,585.9 109.5,585.5 109.8,585.3 110.1,585.0 110.4,584.5 110.7,583.9 111.0,583.7 111.3,583.4 111.6,583.5 111.9,583.4 112.2,583.2 112.5,583.0 112.8,582.2 113.0,582.1 113.3,582.4 113.6,581.9 113.9,581.9 114.2,582.3 114.5,581.6 114.8,581.3 115.1,580.7 115.3,581.4 115.6,581.7 115.9,581.8 116.2,581.3 116.5,581.5 116.8,581.3 117.1,581.4 117.4,581.0 117.7,580.9 118.0,575.6 118.2,570.9 118.5,567.0 118.8,566.4 119.1,565.9 119.4,566.4 119.7,567.2 120.0,567.2 120.3,567.8 120.6,567.9 120.9,568.1 121.1,568.7 121.4,568.2 121.7,568.4 122.0,568.9 122.3,568.9 122.5,569.6 122.8,569.2 123.1,568.7 123.4,570.1 123.6,570.3 123.9,572.1 124.1,573.5 124.4,574.0 124.7,574.3 125.0,573.8 125.2,574.5 125.5,574.3 125.8,575.9 126.1,575.7 126.3,575.8 126.6,574.4 126.8,574.2 127.1,575.0 127.3,574.8 127.6,575.3 127.9,575.9 128.1,577.0 128.4,578.4 128.7,579.2 129.0,577.3 129.3,576.6 129.5,576.2 129.8,576.5 130.1,575.7 130.4,575.5 130.6,575.0 130.9,575.1 131.1,575.8 131.4,575.0 131.6,574.8 131.9,574.0 132.1,574.0 132.4,574.2 132.6,574.8 132.9,582.5 133.2,590.5 133.5,591.0 133.7,591.2 134.0,591.5 134.3,591.6 134.5,591.5 134.8,591.7 135.1,591.8 135.4,591.8 135.7,592.1 136.0,592.1 136.3,592.3 136.6,592.3 136.9,592.4 137.2,592.0 137.4,591.6 137.7,591.1 138.0,591.4 138.3,591.4 138.6,591.8 138.9,592.3 139.2,592.3 139.4,592.6 139.7,592.7 140.0,592.3 140.3,592.1 140.5,591.7 140.8,592.2 141.0,591.8 141.3,591.5 141.5,591.8 141.8,591.7 142.1,591.3 142.4,591.4 142.7,591.2 142.9,591.9 143.2,591.6 143.5,591.4 143.8,590.2 144.0,589.7 144.3,590.3 144.5,590.1 144.8,589.6 145.1,589.2 145.4,588.6 145.6,588.0 145.9,588.5 146.2,588.8 146.5,590.0 146.7,591.2 147.0,591.4 147.2,598.4 147.5,606.2 147.8,606.1 148.0,606.0 148.3,605.8 148.5,605.8 148.8,605.8 149.0,605.7 149.3,605.7 149.6,605.8 149.9,605.9 150.2,606.6 150.4,606.7 150.7,607.5 151.0,607.9 151.3,607.8 151.6,608.0 151.9,607.8 152.2,607.6 152.5,607.4 152.8,607.3 153.1,607.4 153.4,607.8 153.6,607.7 153.9,607.1 154.1,606.6 154.4,605.7 154.6,605.7 154.9,605.7 155.2,605.8 155.5,606.0 155.8,606.2 156.0,606.4 156.3,606.6 156.6,606.7 156.9,606.5 157.2,606.8 157.5,607.3 157.8,606.9 158.0,606.9 158.3,606.7 158.6,606.9 158.9,606.9 159.2,607.4 159.5,607.8 159.8,607.8 160.1,607.7 160.4,607.6 160.6,607.8 160.9,607.6 161.2,607.8 161.5,607.5 161.8,607.9 162.1,608.2 162.4,608.0 162.7,607.9 163.0,608.1 163.3,608.3 163.6,607.6 163.8,607.8 164.1,608.4 164.4,608.5 164.7,608.2 165.0,608.7 165.3,608.9 165.6,609.2 165.9,609.5 166.2,609.3 166.5,609.2 166.8,609.0 167.1,608.8 167.3,608.9 167.6,608.7 167.9,609.3 168.2,609.7 168.5,610.1 168.8,609.7 169.1,609.6 169.4,609.6 169.7,609.7 170.0,609.8 170.3,609.6 170.6,609.3 170.9,609.6 171.2,610.3 171.5,611.0 171.8,610.9 172.1,610.7 172.4,610.8 172.7,610.9 173.0,611.5 173.3,611.4 173.6,611.2 173.9,611.5 174.2,611.3 174.5,611.1 174.8,611.3 175.1,611.2 175.4,610.9 175.6,614.1 175.8,617.2 176.1,617.2 176.4,617.2 176.7,617.1 177.0,617.1 177.3,617.1 177.6,617.1 177.8,617.1 178.1,617.0 178.4,617.0 178.7,617.0 179.0,617.0 179.3,617.0 179.6,616.9 179.9,616.9 180.2,616.9 180.5,616.9 180.8,616.8 181.1,616.8 181.3,616.8 181.6,616.8 181.9,616.8 182.2,616.7 182.5,616.7 182.8,616.7 183.1,616.7 183.4,616.7 183.7,616.7 184.0,616.7 184.3,616.7 184.6,616.7 184.9,616.7 185.2,616.7 185.5,616.7 185.8,616.7 186.1,616.7 186.4,616.7 186.7,616.7 187.0,616.7 187.3,616.7 187.6,616.7 187.9,616.7 188.2,616.7 188.5,616.7 188.8,616.7 189.1,616.7 189.4,616.7 189.7,616.7 189.9,617.9 190.1,619.0 190.4,620.2 190.6,621.4 190.9,621.4 191.2,621.4 191.5,621.4 191.8,621.4 192.1,621.4 192.3,621.4 192.6,621.4 192.9,621.4 193.2,621.4 193.5,621.4 193.8,621.4 194.1,621.4 194.4,621.4 194.7,621.4 195.0,621.4 195.2,621.4 195.5,621.4 195.8,621.4 196.1,621.4 196.4,621.4 196.7,621.4 197.0,621.4 197.3,621.4 197.6,621.4 197.9,621.3 198.2,621.3 198.4,621.3 198.7,621.3 199.0,621.3 199.3,621.2 199.6,621.2 199.9,621.2 200.2,621.2 200.5,621.2 200.8,621.2 201.1,621.1 201.4,621.1 201.7,621.1 201.9,621.1 202.2,621.1 202.5,621.1 202.8,621.0 203.1,621.0 203.4,621.0 203.7,621.0 204.0,621.0 204.3,621.0 204.6,621.0 204.9,621.0 205.2,620.9 205.4,620.9 205.7,620.9 206.0,620.9 206.3,620.9 206.6,620.9 206.9,620.9 207.2,620.9 207.5,620.8 207.8,620.8 208.1,620.8 208.4,620.8 208.7,620.8 208.9,620.8 209.2,620.8 209.5,620.8 209.8,620.7 210.1,620.7 210.4,620.7 210.7,620.7 211.0,620.7 211.3,620.7 211.6,620.7 211.9,620.7 212.2,620.7 212.5,620.7 212.8,620.7 213.1,620.7 213.4,620.7 213.7,620.7 214.0,620.7 214.3,620.7 214.6,620.7 214.9,620.7 215.2,620.7 215.5,620.7 215.8,620.7 216.0,620.7 216.3,620.7 216.6,620.7 216.9,620.7 217.2,620.7 217.5,620.7 217.8,620.7 218.1,620.7 218.4,620.7 218.7,620.7 219.0,620.7 219.3,620.7 219.6,620.7 219.9,620.7 220.2,620.7 220.5,620.7 220.8,620.7 221.0,617.0 221.3,613.4 221.5,609.7 221.8,609.7 222.1,609.5 222.3,608.8 222.6,608.5 222.9,607.9 223.2,606.7 223.5,605.5 223.7,604.4 224.0,603.5 224.3,602.7 224.6,600.2 224.9,597.4 225.2,594.9 225.5,592.3 225.8,594.4 226.0,596.2 226.3,598.4 226.6,597.3 226.9,597.1 227.1,596.8 227.4,596.5 227.7,595.7 228.0,596.5 228.2,597.6 228.5,598.2 228.7,598.5 229.0,599.2 229.3,598.2 229.6,598.3 229.9,598.2 230.2,597.5 230.5,598.5 230.8,599.6 231.0,600.5 231.3,601.5 231.6,602.7 231.9,593.6 232.1,585.0 232.4,575.7 232.7,575.1 232.9,574.6 233.2,573.8 233.4,573.7 233.7,573.1 234.0,573.8 234.3,574.4 234.5,575.8 234.8,577.2 235.1,577.4 235.4,577.6 235.7,577.9 235.9,577.9 236.2,579.1 236.5,580.0 236.8,582.1 237.1,583.7 237.4,585.7 237.7,587.9 237.9,587.5 238.2,585.8 238.4,585.4 238.7,583.6 238.9,582.7 239.2,582.3 239.5,582.2 239.7,581.3 240.0,581.7 240.3,581.8 240.6,581.3 240.8,580.2 241.1,580.2 241.4,580.1 241.7,579.4 241.9,579.6 242.2,579.5 242.5,579.7 242.8,580.0 243.1,579.6 243.3,580.7 243.6,581.8 243.9,582.5 244.2,582.6 244.5,582.8 244.8,583.0 245.1,582.9 245.4,583.4 245.7,583.4 246.0,584.1 246.3,585.0 246.6,585.0 246.8,585.0 247.1,584.0 247.4,584.4 247.7,584.9 248.0,584.8 248.3,585.6 248.6,585.7 248.9,585.5 249.2,586.1 249.5,586.5 249.8,585.8 250.1,585.7 250.4,585.4 250.7,585.5 251.0,585.8 251.3,585.8 251.6,586.1 251.9,586.7 252.2,586.7 252.5,586.4 252.8,586.2 253.1,586.8 253.4,587.7 253.7,587.4 254.0,587.2 254.3,586.6 254.6,586.1 254.9,586.3 255.2,585.8 255.5,585.6 255.8,585.3 256.1,585.6 256.4,585.4 256.7,585.1 257.0,584.9 257.3,584.5 257.6,584.9 257.9,585.7 258.2,584.9 258.5,585.3 258.8,584.8 259.1,584.4 259.4,584.2 259.7,583.9 260.0,583.6 260.3,583.2 260.6,583.9 260.9,583.2 261.2,582.8 261.4,568.9 261.7,555.7 261.9,541.5 262.2,544.0 262.5,546.6 262.8,550.6 263.1,553.5 263.4,556.0 263.7,556.4 264.0,557.9 264.3,558.1 264.5,557.9 264.8,557.8 265.1,557.8 265.4,558.7 265.7,558.3 266.0,557.2 266.2,556.5 266.5,555.2 266.8,555.0 267.1,554.1 267.3,553.7 267.6,553.4 267.9,553.8 268.2,555.8 268.4,555.9 268.7,555.8 269.0,555.7 269.3,556.8 269.6,557.9 269.8,558.7 270.1,559.4 270.4,559.8 270.7,559.9 271.0,559.5 271.2,559.3 271.5,557.7 271.8,558.0 272.1,558.8 272.4,558.3 272.7,558.6 272.9,560.0 273.2,560.2 273.5,560.9 273.8,561.9 274.1,562.3 274.3,563.4 274.6,562.7 274.9,562.1 275.1,563.4 275.4,564.6 275.7,565.6 275.9,566.3 276.2,567.2 276.5,566.6 276.8,565.0 277.0,564.2 277.3,562.9 277.6,563.3 277.8,562.6 278.1,561.9 278.4,561.6 278.7,562.7 279.0,563.9 279.3,564.0 279.6,564.7 279.9,565.8 280.1,566.5 280.4,567.1 280.7,567.3 281.0,568.0 281.3,569.4 281.6,568.1 281.9,566.7 282.1,565.4 282.4,563.9 282.7,564.1 282.9,564.7 283.2,564.4 283.5,563.9 283.8,564.9 284.1,565.7 284.4,564.6 284.6,564.7 284.9,566.4 285.2,566.3 285.5,566.1 285.8,565.9 286.0,567.0 286.3,566.9 286.6,567.4 286.9,568.3 287.2,567.5 287.4,566.5 287.7,564.9 288.0,563.2 288.3,562.9 288.5,561.1 288.8,560.8 289.1,560.7 289.4,560.7 289.6,559.6 289.9,558.1 290.2,557.2 290.5,558.0 290.8,558.3 291.1,558.5 291.3,558.3 291.6,558.8 291.9,557.4 292.2,556.5 292.5,557.5 292.8,557.7 293.0,558.1 293.3,556.7 293.6,556.0 293.9,555.6 294.2,555.5 294.5,556.2 294.8,555.7 295.1,555.7 295.4,555.1 295.7,554.9 296.0,555.1 296.3,555.3 296.6,555.9 296.9,554.9 297.2,555.3 297.4,555.6 297.7,554.9 298.0,555.7 298.3,555.2 298.6,554.8 298.8,555.1 299.1,556.0 299.4,555.2 299.7,555.8 300.0,555.6 300.2,554.6 300.5,554.7 300.8,554.2 301.1,553.3 301.4,552.7 301.7,553.8 301.9,554.2 302.2,554.2 302.4,555.0 302.7,554.2 302.9,554.9 303.2,556.0 303.5,547.0 303.7,538.1 304.0,529.3 304.3,528.4 304.6,527.0 304.8,526.3 305.1,524.6 305.4,524.2 305.7,524.0 305.9,523.8 306.2,522.5 306.5,522.6 306.8,522.0 307.0,522.2 307.3,523.0 307.6,525.1 307.8,525.6 308.1,527.0 308.4,527.5 308.7,528.2 308.9,528.8 309.2,526.9 309.5,526.1 309.8,525.5 310.0,525.0 310.3,524.4 310.6,525.6 310.8,527.0 311.1,527.1 311.4,529.1 311.6,530.7 311.9,531.5 312.2,532.3 312.4,531.5 312.7,530.1 313.0,529.8 313.3,529.4 313.6,529.1 313.8,528.2 314.1,528.1 314.4,528.0 314.7,528.8 315.0,528.9 315.3,527.9 315.6,526.6 315.8,526.9 316.1,527.5 316.4,525.9 316.7,526.2 317.0,525.9 317.3,527.4 317.6,527.8 317.8,528.0 318.1,528.7 318.4,529.2 318.6,530.0 318.9,531.3 319.2,532.6 319.5,533.4 319.8,531.6 320.1,530.2 320.3,529.4 320.6,529.0 320.9,527.1 321.2,524.8 321.5,524.0 321.8,523.4 322.0,523.0 322.3,522.7 322.6,520.3 322.9,521.0 323.2,520.5 323.4,522.2 323.7,521.4 324.0,518.9 324.2,518.4 324.5,518.2 324.8,518.1 325.1,519.3 325.4,519.8 325.6,519.1 325.9,519.9 326.2,520.5 326.4,520.9 326.7,521.9 327.0,522.6 327.3,521.4 327.6,521.3 327.9,521.3 328.1,521.8 328.4,524.1 328.7,524.8 329.0,526.1 329.3,524.8 329.6,527.6 329.9,528.7 330.1,530.9 330.4,531.5 330.7,530.1 331.0,529.5 331.3,528.1 331.6,526.9 331.9,524.8 332.2,526.0 332.4,528.1 332.7,529.8 332.9,531.8 333.2,533.1 333.4,534.6 333.7,537.1 334.0,536.3 334.2,533.8 334.5,531.1 334.7,529.1 335.0,527.8 335.2,525.9 335.5,524.8 335.8,525.9 336.1,526.2 336.3,525.7 336.6,527.7 336.9,529.2 337.1,529.8 337.4,531.3 337.7,531.5 338.0,532.1 338.3,532.8 338.6,533.6 338.9,532.9 339.1,533.9 339.4,534.3 339.7,535.5 340.0,533.7 340.3,533.8 340.6,534.2 340.8,533.2 341.1,533.3 341.4,532.6 341.6,533.2 341.9,532.2 342.2,531.5 342.5,529.6 342.7,530.6 343.0,529.0 343.3,527.2 343.5,525.6 343.8,524.8 344.1,523.7 344.4,523.0 344.6,523.4 344.9,523.3 345.2,520.7 345.4,519.8 345.7,518.5 346.0,518.1 346.3,515.3 346.6,513.9 346.8,511.1 347.1,510.3 347.4,511.1 347.7,514.0 348.0,516.8 348.3,517.8 348.6,518.1 348.9,519.2 349.2,518.1 349.4,518.4 349.7,515.4 350.0,513.7 350.2,510.9 350.5,510.3 350.8,512.4 351.1,514.3 351.3,517.0 351.6,519.2 351.9,519.5 352.2,518.0 352.4,516.1 352.7,514.9 353.0,513.6 353.2,513.7 353.5,512.1 353.8,510.3 354.1,510.2 354.4,510.0 354.6,508.5 354.9,509.2 355.2,510.3 355.4,511.1 355.7,510.9 356.0,512.5 356.3,513.2 356.5,513.5 356.8,514.1 357.0,514.0 357.3,514.4 357.5,514.9 357.8,513.6 358.1,515.3 358.4,516.7 358.7,519.3 359.0,518.9 359.2,521.4 359.5,523.5 359.8,525.5 360.1,528.1 360.4,522.8 360.7,519.3 361.0,514.8 361.3,510.4 361.6,508.1 361.9,507.8 362.2,509.1 362.5,509.1 362.8,508.8 363.0,508.5 363.3,507.0 363.6,506.7 363.9,506.9 364.2,508.0 364.4,508.5 364.7,508.9 365.0,507.5 365.3,506.2 365.6,506.2 365.8,506.3 366.1,504.7 366.4,506.3 366.7,506.1 367.0,506.9 367.3,506.8 367.6,508.1 367.9,505.3 368.2,502.7 368.5,497.8 368.8,494.1 369.1,492.9 369.4,489.1 369.7,489.3 370.0,489.1 370.3,488.1 370.5,489.8 370.8,491.4 371.1,490.2 371.4,490.4 371.7,492.4 372.0,494.3 372.2,495.7 372.5,498.2 372.8,500.5 373.1,500.4 373.3,500.8 373.6,504.0 373.9,504.7 374.2,502.4 374.4,499.4 374.7,499.5 375.0,495.8 375.3,491.1 375.5,485.6 375.8,480.2 376.1,473.6 376.3,467.5 376.6,462.3 376.9,465.1 377.2,464.7 377.5,467.3 377.8,468.4 378.1,470.7 378.4,472.4 378.7,475.6 379.0,478.5 379.2,482.5 379.5,485.8 379.8,486.9 380.1,486.9 380.4,483.7 380.7,482.7 381.0,479.2 381.2,476.5 381.5,477.7 381.8,475.9 382.1,474.3 382.4,473.5 382.7,475.5 382.9,475.9 383.2,477.1 383.5,475.4 383.8,477.0 384.0,478.9 384.3,477.6 384.6,480.0 384.8,483.7 385.1,481.3 385.4,481.3 385.7,483.5 385.9,484.6 386.2,484.0 386.5,483.4 386.8,483.2 387.0,484.4 387.3,483.5 387.6,484.3 387.9,487.2 388.1,488.9 388.4,493.7 388.7,495.1 388.9,498.2 389.2,500.6 389.5,501.4 389.8,500.7 390.0,498.2 390.3,498.0 390.6,496.2 390.8,494.1 391.1,491.5 391.4,492.6 391.7,492.6 392.0,490.6 392.2,489.7 392.5,489.8 392.8,489.8 393.0,479.8 393.3,466.8 393.5,459.2 393.8,453.8 394.1,450.9 394.3,443.6 394.6,439.8 394.9,436.8 395.2,438.2 395.5,435.3 395.7,434.2 396.0,436.2 396.3,434.1 396.6,436.3 396.9,437.0 397.1,435.4 397.4,438.1 397.7,441.0 398.0,443.8 398.3,445.9 398.5,449.4 398.8,447.8 399.1,449.4 399.4,451.8 399.7,452.2 399.9,453.5 400.2,452.7 400.5,452.9 400.8,450.0 401.0,449.8 401.3,449.2 401.6,447.6 401.8,446.5 402.1,445.6 402.3,445.0 402.6,445.2 402.9,443.7 403.1,436.6 403.4,433.7 403.6,432.4 403.9,427.1 404.1,423.9 404.4,425.5 404.6,421.4 404.9,420.4 405.1,418.0 405.4,419.1 405.7,422.5 406.0,422.9 406.3,419.2 406.6,417.9 406.8,416.1 407.1,413.7 407.4,409.6 407.7,413.3 408.0,418.2 408.2,422.1 408.5,426.5 408.8,429.9 409.1,429.9 409.4,427.3 409.7,429.3 410.0,426.4 410.3,423.9 410.6,421.6 410.9,419.4 411.2,423.8 411.5,425.3 411.7,426.7 412.0,428.0 412.3,429.9 412.6,431.9 412.9,434.3 413.1,433.1 413.4,435.9 413.7,436.6 414.0,436.8 414.3,440.5 414.6,442.1 414.8,444.1 415.1,445.8 415.4,445.2 415.7,445.1 416.0,445.4 416.2,445.9 416.5,446.9 416.8,448.0 417.1,446.0 417.3,442.2 417.6,439.6 417.9,445.7 418.1,449.7 418.4,454.8 418.6,457.8 418.9,450.6 419.1,446.9 419.4,442.4 419.6,438.2 419.9,441.2 420.2,440.1 420.4,441.1 420.7,438.5 421.0,438.2 421.3,442.6 421.6,443.3 421.8,444.5 422.1,447.3 422.4,438.6 422.6,428.3 422.9,416.1 423.2,405.5 423.4,414.0 423.7,421.6 423.9,429.0 424.2,438.2 424.5,432.5 424.8,428.4 425.0,421.9 425.3,418.0 425.6,411.7 425.9,414.9 426.2,417.8 426.5,417.3 426.8,418.5 427.1,415.9 427.4,411.3 427.7,405.5 428.0,410.0 428.3,414.6 428.5,417.4 428.8,419.5 429.1,422.9 429.4,419.6 429.7,417.1 430.0,414.2 430.2,413.8 430.5,407.6 430.8,410.3 431.1,408.2 431.4,414.1 431.7,417.7 431.9,425.7 432.2,431.5 432.5,436.8 432.8,431.2 433.1,428.4 433.3,425.4 433.6,420.3 433.9,419.4 434.2,419.7 434.5,423.9 434.7,426.2 435.0,425.6 435.3,427.1 435.6,425.8 435.9,422.7 436.1,420.6 436.4,418.1 436.7,416.6 437.0,415.8 437.3,419.9 437.5,421.0 437.8,424.3 438.1,424.3 438.4,427.1 438.6,427.7 438.9,430.2 439.1,435.4 439.4,436.4 439.7,435.6 439.9,435.1 440.2,436.6 440.5,436.8 440.8,439.0 441.1,438.1 441.3,436.8 441.6,436.7 441.9,438.2 442.2,440.8 442.4,444.9 442.7,448.9 443.0,450.8 443.3,450.6 443.5,450.5 443.8,451.9 444.1,453.0 444.3,454.1 444.6,455.2 444.8,454.6 445.1,459.2 445.4,457.7 445.7,453.3 446.0,448.0 446.3,444.9 446.6,442.7 446.9,439.6 447.2,443.4 447.5,447.6 447.7,450.9 448.0,451.9 448.3,453.6 448.6,447.7 448.9,446.3 449.1,442.4 449.4,439.7 449.7,440.3 449.9,449.3 450.2,459.6 450.4,468.5 450.7,475.9 451.0,478.0 451.3,478.6 451.5,479.2 451.8,481.0 452.1,481.5 452.4,481.1 452.7,481.5 452.9,479.2 453.2,478.4 453.5,477.3 453.8,479.3 454.1,483.1 454.3,482.4 454.6,485.0 454.9,485.7 455.2,485.5 455.4,485.0 455.7,483.8 455.9,481.1 456.2,480.0 456.4,477.8 456.7,478.7 457.0,479.0 457.2,477.9 457.5,477.0 457.8,478.3 458.0,476.0 458.3,475.9 458.6,475.7 458.9,474.0 459.1,475.1 459.4,474.1 459.7,475.2 460.0,476.6 460.3,476.8 460.5,477.8 460.8,480.3 461.1,480.1 461.4,485.3 461.6,491.4 461.9,498.2 462.2,505.2 462.5,501.8 462.8,498.1 463.0,495.7 463.3,493.1 463.6,491.2 463.9,490.3 464.2,490.8 464.5,490.4 464.7,493.5 465.0,492.0 465.3,491.9 465.6,491.3 465.9,489.1 466.1,488.5 466.4,487.6 466.7,485.6 467.0,485.0 467.3,487.3 467.5,488.0 467.8,490.3 468.0,492.5 468.3,493.3 468.5,493.4 468.8,491.2 469.1,490.8 469.3,493.1 469.6,495.2 469.8,497.5 470.1,498.5 470.3,500.2 470.6,501.0 470.9,503.0 471.2,504.1 471.5,502.7 471.7,503.0 472.0,505.4 472.3,505.2 472.6,505.0 472.9,505.0 473.1,505.4 473.4,506.6 473.7,507.5 474.0,508.7 474.3,504.7 474.5,502.1 474.8,500.5 475.0,496.1 475.3,493.1 475.5,490.1 475.8,487.0 476.1,488.8 476.3,491.3 476.6,492.9 476.8,494.0 477.1,494.9 477.3,497.7 477.6,498.9 477.9,496.6 478.2,495.8 478.5,495.0 478.7,495.9 479.0,496.9 479.3,495.4 479.6,495.6 479.8,494.8 480.1,495.4 480.4,493.5 480.6,493.0 480.9,492.6 481.2,495.2 481.4,494.3 481.7,494.9 481.9,495.7 482.2,496.1 482.4,495.7 482.7,496.1 483.0,495.5 483.2,497.1 483.5,496.5 483.8,497.1 484.0,495.8 484.3,495.3 484.5,494.6 484.8,494.0 485.1,492.3 485.3,492.4 485.6,495.5 485.9,495.6 486.2,494.1 486.4,496.9 486.7,497.5 487.0,499.0 487.2,498.4 487.5,499.1 487.7,500.0 488.0,500.9 488.3,500.8 488.6,502.5 488.9,502.0 489.2,504.3 489.4,506.0 489.6,507.3 489.9,507.3 490.1,509.4 490.4,506.9 490.6,502.2 490.9,501.2 491.1,498.0 491.4,493.3 491.7,496.4 492.0,496.8 492.2,497.4 492.5,497.4 492.8,497.9 493.1,499.2 493.4,498.0 493.7,498.4 494.0,497.3 494.2,497.3 494.5,494.7 494.8,494.1 495.1,493.2 495.4,493.2 495.7,492.0 495.9,491.4 496.2,491.1 496.5,489.2 496.8,489.1 497.1,489.5 497.4,488.9 497.6,487.4 497.9,489.1 498.2,490.5 498.5,490.8 498.8,490.0 499.1,489.8 499.4,487.4 499.6,486.0 499.9,484.6 500.2,483.1 500.5,483.0 500.8,482.4 501.0,483.4 501.3,483.7 501.6,485.9 501.9,486.5 502.2,486.6 502.5,485.0 502.8,484.8 503.0,485.2 503.3,485.0 503.6,484.0 503.9,480.5 504.2,479.6 504.5,480.1 504.7,482.5 505.0,481.3 505.3,482.3 505.6,478.4 505.9,477.5 506.1,475.1 506.4,473.0 506.7,471.3 507.0,473.3 507.2,475.3 507.5,479.6 507.8,480.6 508.1,478.4 508.4,478.5 508.7,478.5 509.0,476.4 509.3,476.3 509.6,477.3 509.8,480.7 510.1,483.5 510.4,484.0 510.7,484.0 511.0,484.6 511.2,483.1 511.5,484.2 511.8,484.4 512.1,486.5 512.4,476.0 512.6,467.1 512.9,456.9 513.1,455.5 513.4,457.7 513.6,455.8 513.9,455.1 514.1,455.2 514.4,457.6 514.7,457.6 514.9,456.5 515.2,456.4 515.5,458.6 515.8,456.0 516.0,453.5 516.3,453.5 516.6,451.6 516.8,452.9 517.1,451.0 517.4,455.3 517.7,458.6 518.0,462.0 518.3,472.2 518.5,482.4 518.8,488.2 519.1,486.0 519.4,488.1 519.6,487.5 519.9,486.7 520.2,486.8 520.5,487.4 520.8,486.3 521.1,486.2 521.3,485.6 521.6,483.5 521.9,482.3 522.2,484.1 522.5,483.3 522.8,483.7 523.0,483.1 523.3,483.2 523.6,481.5 523.9,481.9 524.2,481.3 524.5,483.0 524.7,482.8 525.0,485.7 525.3,487.4 525.6,487.1 525.9,490.3 526.1,491.0 526.4,492.1 526.7,491.1 527.0,491.6 527.3,491.7 527.6,491.0 527.9,490.5 528.1,493.1 528.4,493.3 528.7,494.1 529.0,494.2 529.2,494.7 529.5,495.1 529.8,496.0 530.0,497.1 530.3,499.2 530.5,498.8 530.8,498.3 531.0,497.0 531.3,497.3 531.5,497.5 531.7,503.5 532.0,508.0 532.2,514.2 532.5,518.4 532.7,526.3 533.0,525.6 533.3,526.1 533.5,525.2 533.8,525.3 534.1,526.2 534.4,526.3 534.7,525.9 535.0,525.0 535.2,525.0 535.5,525.7 535.8,525.1 536.1,523.8 536.4,524.0 536.7,524.6 537.0,523.6 537.2,524.3 537.5,525.7 537.8,525.4 538.1,524.9 538.3,524.2 538.6,523.8 538.9,523.5 539.2,521.9 539.5,521.8 539.7,523.2 540.0,522.9 540.3,521.6 540.6,521.3 540.9,523.2 541.1,523.1 541.4,523.3 541.7,522.1 542.0,520.5 542.3,520.2 542.5,520.5 542.8,519.7 543.1,520.0 543.4,519.5 543.7,517.2 544.0,516.8 544.2,517.2 544.5,519.3 544.8,517.6 545.1,517.8 545.4,519.0 545.6,520.2 545.9,521.2 546.1,539.9 546.4,558.4 546.7,558.0 546.9,557.5 547.2,557.5 547.5,556.6 547.7,556.7 548.0,557.3 548.2,556.9 548.5,556.8 548.8,556.7 549.0,557.2 549.3,557.9 549.6,557.6 549.8,558.7 550.1,558.4 550.4,559.3 550.7,560.3 551.0,560.5 551.2,561.1 551.5,561.2 551.8,562.7 552.1,562.6 552.4,561.7 552.7,562.2 553.0,562.0 553.2,563.2 553.5,563.1 553.8,563.5 554.1,562.8 554.4,562.7 554.7,562.7 555.0,563.3 555.2,564.3 555.5,564.4 555.8,564.4 556.1,564.0 556.3,563.6 556.6,563.7 556.9,564.4 557.2,565.4 557.5,565.1 557.7,564.6 558.0,563.9 558.3,564.3 558.6,565.0 558.8,565.3 559.1,566.2 559.4,566.1 559.7,567.0 560.0,568.2 560.2,568.6 560.5,569.5 560.8,570.3 561.1,569.1 561.4,569.1 561.6,569.3 561.9,569.9 562.2,569.8 562.5,570.3 562.8,580.1 563.0,590.8 563.3,600.7 563.6,600.6 563.8,600.1 564.1,600.6 564.3,600.4 564.6,600.6 564.9,600.5 565.1,600.6 565.4,600.7 565.7,600.3 566.0,600.3 566.2,600.1 566.5,599.8 566.8,600.0 567.1,599.9 567.4,599.7 567.7,599.2 568.0,598.5 568.2,597.8 568.5,597.3 568.8,596.5 569.1,595.8 569.3,594.6 569.6,594.0 569.9,594.1 570.1,594.3 570.4,594.3" fill="none" stroke="#8308ff" stroke-width="1.15" stroke-linejoin="round"/>
<polyline points="0.0,767.7 0.3,767.5 0.5,767.6 0.8,767.2 1.1,767.3 1.4,767.0 1.6,766.8 1.9,767.0 2.2,766.8 2.4,766.6 2.7,766.6 3.0,761.5 3.3,756.1 3.6,750.9 3.9,750.8 4.1,750.8 4.4,750.8 4.6,750.7 4.9,750.5 5.1,750.3 5.4,750.3 5.7,750.4 6.0,750.5 6.3,750.7 6.5,750.6 6.8,750.8 7.1,751.0 7.4,751.3 7.7,751.3 8.0,751.4 8.2,751.2 8.5,751.2 8.8,751.0 9.1,750.9 9.4,751.1 9.7,750.6 10.0,750.7 10.3,750.7 10.6,750.6 10.9,750.7 11.2,750.7 11.5,750.9 11.8,750.8 12.1,750.7 12.4,750.5 12.7,750.3 13.0,750.4 13.3,750.4 13.5,750.8 13.8,750.6 14.1,750.6 14.4,750.5 14.6,750.3 14.9,750.8 15.2,750.5 15.5,750.6 15.7,750.7 16.0,751.1 16.3,750.9 16.6,751.1 16.9,751.0 17.2,751.0 17.5,750.9 17.8,751.0 18.1,750.9 18.4,750.9 18.7,751.0 19.0,751.3 19.3,750.9 19.6,751.2 19.9,751.4 20.2,751.4 20.5,751.5 20.8,751.5 21.1,751.8 21.3,751.9 21.6,751.9 21.9,751.9 22.2,752.0 22.5,752.0 22.8,751.9 23.1,752.3 23.4,752.0 23.7,751.4 24.0,751.5 24.2,751.5 24.5,751.6 24.8,751.7 25.1,751.7 25.4,751.8 25.7,752.0 26.0,751.9 26.3,751.8 26.6,752.2 26.9,752.3 27.2,752.1 27.5,752.5 27.8,752.7 28.1,752.6 28.4,752.4 28.7,752.4 29.0,752.3 29.3,752.1 29.6,751.9 29.9,751.8 30.2,751.9 30.4,751.8 30.7,751.5 31.0,751.6 31.3,751.5 31.6,751.6 31.8,751.8 32.1,751.7 32.4,751.6 32.7,751.6 32.9,751.3 33.2,751.4 33.5,752.1 33.8,752.6 34.1,753.0 34.4,753.1 34.7,753.0 35.0,753.0 35.2,753.1 35.5,753.0 35.8,753.1 36.1,752.9 36.4,753.1 36.7,753.2 37.0,753.1 37.2,752.8 37.5,752.9 37.8,753.2 38.1,753.2 38.4,753.1 38.7,753.1 39.0,753.2 39.3,753.1 39.6,753.3 39.9,753.3 40.2,753.5 40.5,753.5 40.8,753.5 41.1,753.3 41.4,753.2 41.7,753.2 42.0,753.3 42.3,753.4 42.6,753.3 42.9,753.4 43.2,753.6 43.5,753.6 43.8,753.6 44.1,753.5 44.3,753.7 44.6,753.8 44.9,753.7 45.2,753.8 45.4,753.7 45.7,753.6 46.0,753.9 46.3,754.0 46.5,753.9 46.8,754.0 47.1,754.1 47.4,754.1 47.7,754.1 47.9,754.3 48.2,754.1 48.5,754.2 48.8,754.4 49.1,754.6 49.3,754.4 49.6,754.6 49.9,754.5 50.1,766.7 50.4,779.0 50.7,779.0 51.0,778.9 51.2,778.8 51.5,779.0 51.8,778.8 52.0,778.9 52.3,779.0 52.6,779.0 52.9,779.5 53.2,779.6 53.4,780.0 53.7,779.7 54.0,779.3 54.3,779.6 54.5,779.7 54.8,779.7 55.1,779.8 55.4,779.5 55.6,779.4 55.9,779.3 56.2,779.3 56.5,779.5 56.8,779.5 57.1,779.6 57.4,779.5 57.7,779.4 58.0,779.4 58.3,779.4 58.6,779.6 58.9,779.5 59.2,779.9 59.5,779.7 59.8,779.9 60.1,780.0 60.4,780.6 60.7,780.9 61.0,781.3 61.3,781.7 61.6,787.8 61.8,793.5 62.1,798.3 62.3,806.0 62.6,812.0 62.9,811.4 63.1,811.2 63.4,812.9 63.6,811.2 63.9,811.3 64.1,810.8 64.4,811.2 64.7,809.2 65.0,808.5 65.3,808.9 65.6,809.9 65.9,810.9 66.2,809.8 66.5,809.9 66.8,809.8 67.1,808.6 67.4,807.4 67.7,808.1 68.0,808.3 68.3,808.7 68.5,810.4 68.8,810.0 69.0,811.0 69.3,811.6 69.6,810.8 69.9,810.5 70.2,809.9 70.5,809.4 70.8,808.8 71.1,809.8 71.4,808.9 71.7,809.2 72.0,809.2 72.2,808.3 72.5,808.4 72.8,807.1 73.1,807.5 73.4,806.2 73.7,805.4 74.0,805.3 74.2,805.6 74.5,806.0 74.8,806.4 75.1,805.9 75.4,804.6 75.6,804.7 75.9,804.6 76.2,803.4 76.5,805.3 76.8,806.4 77.1,806.6 77.4,808.0 77.7,807.8 78.0,808.0 78.3,808.2 78.6,806.8 78.9,806.7 79.2,805.4 79.5,805.9 79.8,805.2 80.1,806.3 80.4,805.9 80.7,806.5 81.0,808.3 81.3,809.6 81.6,808.9 81.9,808.8 82.1,808.7 82.4,807.5 82.6,807.9 82.9,806.1 83.1,805.1 83.4,805.2 83.7,806.6 84.0,808.0 84.3,807.3 84.6,806.0 84.9,806.7 85.2,805.7 85.5,805.8 85.8,805.0 86.1,806.2 86.4,806.3 86.6,806.2 86.9,805.6 87.2,805.0 87.4,804.2 87.7,803.9 88.0,803.5 88.3,803.3 88.5,802.3 88.8,803.4 89.1,803.4 89.4,804.3 89.6,805.2 89.9,804.1 90.2,802.3 90.5,803.1 90.8,802.5 91.0,802.3 91.3,801.8 91.6,801.6 91.9,800.8 92.1,800.9 92.4,800.7 92.7,800.9 92.9,799.0 93.2,799.9 93.5,800.4 93.8,799.1 94.0,798.7 94.3,798.9 94.6,798.8 94.8,798.1 95.1,798.7 95.4,798.1 95.7,796.5 95.9,795.3 96.2,795.3 96.5,794.1 96.7,794.2 97.0,794.4 97.3,794.7 97.6,795.4 97.9,795.1 98.2,794.9 98.5,794.2 98.8,793.5 99.1,792.6 99.4,792.5 99.7,792.0 100.0,791.2 100.3,791.8 100.6,792.6 100.9,792.4 101.1,793.6 101.4,794.5 101.6,795.5 101.9,795.1 102.1,793.8 102.4,794.4 102.7,794.7 102.9,795.3 103.2,795.6 103.5,796.7 103.8,796.4 104.0,797.0 104.3,796.2 104.6,794.4 104.8,794.3 105.1,795.9 105.4,794.7 105.7,795.8 105.9,795.5 106.2,795.4 106.5,795.7 106.7,796.2 107.0,795.6 107.3,795.5 107.5,795.6 107.8,796.1 108.1,795.2 108.3,796.3 108.6,797.7 108.9,799.6 109.2,798.2 109.4,798.1 109.7,796.2 110.0,797.3 110.2,798.5 110.5,798.2 110.8,797.6 111.1,798.4 111.3,799.7 111.6,799.8 111.9,800.3 112.1,798.8 112.4,798.9 112.7,799.3 113.0,799.6 113.3,801.2 113.6,800.5 113.9,798.7 114.2,799.3 114.5,799.1 114.8,799.5 115.1,800.4 115.4,800.7 115.7,801.8 115.9,802.8 116.2,801.1 116.5,800.8 116.8,802.4 117.1,801.8 117.3,802.4 117.6,802.2 117.9,801.6 118.2,782.7 118.5,763.7 118.8,744.5 119.1,744.6 119.3,744.3 119.6,744.1 119.9,744.2 120.2,744.1 120.4,743.8 120.7,743.9 121.0,743.8 121.2,744.0 121.5,744.1 121.8,744.1 122.1,744.1 122.4,744.1 122.7,744.1 123.0,744.4 123.3,744.7 123.6,745.0 123.9,745.1 124.2,745.1 124.5,745.3 124.8,745.3 125.1,745.4 125.4,745.2 125.6,745.2 125.9,745.5 126.2,745.4 126.5,745.2 126.8,745.3 127.0,745.7 127.3,746.0 127.6,746.0 127.9,746.0 128.1,746.1 128.4,746.0 128.7,746.0 129.0,745.9 129.3,745.7 129.6,745.6 129.9,745.5 130.2,745.4 130.4,745.2 130.7,745.3 131.0,745.6 131.3,745.6 131.6,745.5 131.9,745.6 132.2,745.8 132.5,745.8 132.8,746.3 133.0,746.3 133.3,746.3 133.6,746.4 133.9,746.5 134.2,746.6 134.5,746.9 134.7,747.4 135.0,747.7 135.3,747.9 135.6,747.7 135.9,747.8 136.2,747.7 136.4,747.7 136.7,747.9 137.0,748.0 137.3,748.0 137.6,747.9 137.8,748.0 138.1,748.1 138.4,747.9 138.7,747.9 139.0,748.1 139.3,747.7 139.6,747.7 139.8,747.4 140.1,747.7 140.4,747.8 140.7,747.9 141.0,748.0 141.3,748.0 141.6,748.1 141.9,747.8 142.2,747.8 142.4,747.9 142.7,747.6 143.0,747.8 143.3,747.9 143.6,747.6 143.9,747.5 144.2,747.4 144.5,747.3 144.8,747.4 145.1,747.1 145.3,747.0 145.6,747.1 145.9,747.2 146.2,747.2 146.5,747.1 146.8,747.2 147.1,746.9 147.4,747.0 147.6,747.0 147.9,746.8 148.2,746.7 148.4,746.4 148.7,746.0 149.0,746.0 149.3,746.1 149.6,746.4 149.9,746.4 150.2,746.4 150.4,746.4 150.7,746.9 151.0,747.1 151.3,747.2 151.6,747.0 151.9,746.7 152.2,746.7 152.5,746.7 152.8,746.9 153.1,747.0 153.3,747.0 153.6,746.9 153.9,746.7 154.2,746.2 154.5,746.0 154.8,746.0 155.1,746.0 155.4,746.2 155.7,746.1 156.0,746.4 156.3,746.5 156.6,746.6 156.9,746.8 157.2,746.5 157.5,746.5 157.8,746.5 158.1,746.9 158.4,747.0 158.7,747.0 159.0,747.3 159.3,747.2 159.6,747.5 159.9,747.4 160.2,747.4 160.5,747.3 160.8,747.5 161.1,747.1 161.3,747.3 161.6,747.2 161.9,747.2 162.2,747.1 162.5,747.1 162.8,747.2 163.1,747.0 163.3,746.8 163.6,746.6 163.9,746.5 164.1,746.1 164.4,745.6 164.7,745.4 165.0,745.6 165.3,745.5 165.6,745.7 165.9,745.8 166.2,745.6 166.4,745.8 166.7,746.2 167.0,746.2 167.3,746.1 167.6,745.9 167.9,746.1 168.2,746.0 168.5,746.0 168.8,746.1 169.1,746.1 169.4,746.1 169.7,746.0 169.9,745.9 170.2,746.0 170.5,746.0 170.8,746.1 171.1,746.0 171.4,746.1 171.7,746.2 171.9,746.2 172.2,746.3 172.5,746.5 172.8,746.5 173.1,746.5 173.4,746.2 173.7,746.2 173.9,746.1 174.2,745.9 174.5,745.7 174.8,745.7 175.1,746.0 175.4,746.0 175.7,745.9 175.9,745.9 176.2,745.7 176.5,745.6 176.8,745.5 177.1,745.3 177.4,745.3 177.7,745.4 177.9,745.3 178.2,745.2 178.5,745.2 178.8,745.0 179.1,745.1 179.4,745.0 179.7,745.0 179.9,745.1 180.2,745.2 180.5,744.9 180.8,744.9 181.1,744.9 181.4,744.8 181.7,744.4 182.0,744.4 182.2,744.5 182.5,744.6 182.8,744.7 183.1,744.8 183.4,744.9 183.7,745.2 184.0,745.3 184.3,745.5 184.5,745.5 184.8,745.7 185.1,745.7 185.4,745.9 185.7,745.6 186.0,745.5 186.3,745.3 186.6,745.1 186.8,745.2 187.1,745.1 187.4,744.9 187.7,744.7 188.0,744.8 188.3,744.8 188.6,744.8 188.9,744.5 189.2,744.6 189.4,744.5 189.7,744.3 190.0,744.1 190.3,743.7 190.6,743.9 190.9,743.7 191.2,743.9 191.4,743.8 191.7,743.8 192.0,743.9 192.3,743.9 192.6,743.8 192.8,743.8 193.1,743.9 193.4,743.9 193.7,743.7 194.0,743.7 194.3,743.6 194.5,743.6 194.8,743.7 195.1,743.7 195.4,743.8 195.7,743.5 196.0,743.7 196.2,743.7 196.5,743.7 196.8,743.8 197.1,744.2 197.4,743.9 197.7,743.6 198.0,743.7 198.3,743.5 198.6,743.7 198.8,743.5 199.1,743.4 199.4,743.5 199.7,743.7 200.0,743.7 200.3,743.8 200.6,743.7 200.9,743.6 201.2,743.5 201.4,743.6 201.7,743.7 202.0,743.6 202.3,743.6 202.6,743.7 202.8,743.9 203.1,743.8 203.4,743.7 203.7,767.7 203.9,793.7 204.2,817.7 204.5,842.5 204.8,840.2 205.1,839.9 205.4,837.7 205.7,835.8 205.9,836.2 206.2,837.1 206.4,838.3 206.7,839.6 207.0,838.4 207.3,836.7 207.6,837.6 207.9,836.6 208.2,835.8 208.5,836.4 208.8,836.1 209.1,835.5 209.4,834.6 209.7,835.1 210.0,833.8 210.3,832.6 210.6,832.3 210.9,830.2 211.2,829.1 211.5,829.9 211.8,829.3 212.1,829.2 212.4,829.6 212.7,828.4 212.9,828.1 213.2,826.9 213.4,825.4 213.7,824.6 213.9,823.8 214.2,822.7 214.4,821.3 214.7,821.4 214.9,821.6 215.2,823.0 215.5,823.8 215.8,823.7 216.1,823.9 216.4,823.3 216.6,823.8 216.9,825.0 217.2,826.1 217.5,825.7 217.8,825.0 218.1,824.7 218.4,824.5 218.7,824.6 219.0,825.8 219.3,825.0 219.5,826.7 219.8,824.8 220.1,823.1 220.4,823.6 220.6,824.6 220.9,826.2 221.2,829.9 221.4,831.5 221.6,834.6 221.9,836.5 222.1,838.8 222.4,838.1 222.7,840.3 222.9,849.5 223.1,858.2 223.4,868.3 223.6,876.6 223.9,885.1 224.1,896.1 224.4,906.5 224.6,916.4 224.9,926.2 225.1,937.5 225.4,947.8 225.6,927.8 225.9,908.8 226.1,888.1 226.4,903.1 226.6,916.8 226.9,929.9 227.2,922.4 227.5,914.8 227.8,906.4 228.1,898.5 228.3,902.9 228.6,907.8 228.8,910.6 229.1,911.9 229.4,906.3 229.6,898.7 229.9,891.0 230.1,898.0 230.4,904.3 230.6,911.9 230.8,901.7 231.1,892.5 231.3,882.3 231.6,874.6 231.8,873.8 232.1,874.1 232.3,874.7 232.5,873.1 232.8,866.0 233.1,859.7 233.3,859.0 233.6,858.1 233.8,858.1 234.0,858.2 234.3,858.0 234.6,858.3 234.8,859.2 235.1,859.7 235.3,857.7 235.6,854.5 235.8,853.9 236.1,851.5 236.3,848.7 236.6,845.6 236.8,842.5 237.1,839.6 237.3,835.8 237.6,839.6 237.9,844.2 238.2,848.1 238.5,852.2 238.8,852.4 239.1,852.2 239.4,853.5 239.7,852.7 239.9,852.8 240.2,853.4 240.5,853.4 240.8,852.3 241.1,851.1 241.4,854.3 241.7,855.3 241.9,857.2 242.2,859.5 242.5,861.4 242.8,858.6 243.1,855.8 243.3,854.4 243.6,852.5 243.9,851.1 244.2,851.4 244.5,851.7 244.8,850.7 245.1,849.4 245.4,850.4 245.7,850.0 246.0,848.9 246.3,847.1 246.6,847.6 246.8,846.4 247.1,845.4 247.4,845.9 247.7,846.2 248.0,846.6 248.3,845.6 248.6,843.1 248.9,842.3 249.2,842.1 249.4,841.6 249.7,842.5 250.0,842.8 250.3,842.0 250.6,842.4 250.9,842.2 251.2,841.8 251.5,842.7 251.8,841.2 252.1,842.0 252.4,842.6 252.6,840.5 252.9,840.0 253.2,839.5 253.4,838.2 253.7,837.4 254.0,838.4 254.2,840.2 254.5,841.4 254.8,841.3 255.0,844.1 255.3,846.6 255.6,846.0 255.8,846.9 256.1,848.8 256.3,847.6 256.6,847.4 256.8,847.1 257.1,847.7 257.4,847.7 257.6,846.8 257.9,848.2 258.2,848.2 258.5,849.2 258.7,851.5 259.0,851.1 259.3,851.2 259.5,852.4 259.8,852.7 260.1,853.6 260.3,854.0 260.6,856.9 260.9,826.3 261.1,795.4 261.4,764.3 261.7,733.4 262.0,733.4 262.3,733.7 262.6,734.1 262.9,734.2 263.1,734.5 263.4,734.7 263.7,735.0 264.0,735.7 264.3,735.9 264.6,736.1 264.9,736.0 265.1,736.1 265.4,736.2 265.7,736.2 266.0,736.4 266.3,736.9 266.6,737.0 266.9,737.1 267.1,737.2 267.4,737.6 267.7,737.3 268.0,736.9 268.3,736.8 268.6,736.7 268.9,736.5 269.1,736.3 269.4,736.2 269.7,736.4 270.0,736.5 270.3,736.6 270.6,736.9 270.8,737.0 271.1,737.0 271.4,737.2 271.7,736.9 272.0,737.4 272.2,737.4 272.5,737.7 272.8,737.8 273.1,738.0 273.4,737.9 273.6,738.3 273.9,738.6 274.2,738.7 274.5,739.4 274.7,739.3 275.0,739.6 275.3,739.4 275.6,739.0 275.8,739.2 276.1,738.8 276.4,738.7 276.6,738.5 276.9,738.4 277.2,738.1 277.5,738.2 277.8,738.1 278.0,737.8 278.3,737.4 278.6,737.6 278.9,737.6 279.2,737.9 279.5,738.2 279.7,738.2 280.0,738.1 280.3,738.0 280.6,738.3 280.9,737.9 281.2,738.0 281.4,737.6 281.7,737.4 282.0,737.3 282.2,737.0 282.5,736.8 282.8,736.7 283.1,736.9 283.4,737.1 283.7,737.2 284.0,737.8 284.2,738.0 284.5,738.4 284.8,738.0 285.1,738.1 285.4,738.1 285.7,738.3 286.0,738.2 286.3,738.0 286.5,737.9 286.8,738.1 287.1,738.3 287.4,738.1 287.7,738.3 288.0,738.2 288.2,738.3 288.5,738.1 288.8,738.3 289.0,740.0 289.3,741.3 289.5,742.8 289.8,742.5 290.1,742.4 290.4,742.9 290.6,742.8 290.9,742.9 291.2,742.6 291.5,742.6 291.8,742.5 292.0,742.7 292.3,742.6 292.6,743.0 292.9,742.8 293.2,742.8 293.5,742.4 293.8,742.3 294.1,742.4 294.4,742.4 294.7,742.1 295.0,742.1 295.2,742.2 295.5,742.3 295.8,742.4 296.1,742.1 296.4,742.4 296.7,742.4 297.0,742.0 297.3,742.3 297.6,742.3 297.9,742.5 298.2,742.2 298.5,742.2 298.8,742.0 299.1,742.2 299.4,742.2 299.7,742.2 300.0,742.2 300.3,742.5 300.6,742.4 300.9,742.6 301.2,742.5 301.5,742.3 301.8,742.3 302.1,742.2 302.4,742.2 302.6,742.3 302.9,742.2 303.2,742.1 303.5,742.2 303.7,742.2 304.0,742.1 304.3,742.1 304.6,741.7 304.8,741.5 305.1,741.2 305.4,741.1 305.7,741.3 306.0,741.0 306.2,741.1 306.5,741.0 306.8,741.0 307.1,740.9 307.4,741.0 307.6,740.9 307.9,740.5 308.2,740.5 308.5,740.5 308.8,740.7 309.1,740.9 309.3,740.8 309.6,740.9 309.9,741.0 310.1,741.1 310.4,741.2 310.7,741.4 311.0,741.4 311.2,741.4 311.5,741.7 311.8,741.6 312.1,741.6 312.4,741.4 312.6,741.2 312.9,741.2 313.2,741.2 313.5,741.5 313.8,741.4 314.1,741.6 314.4,741.7 314.6,741.7 314.9,741.2 315.2,741.2 315.5,741.3 315.8,741.1 316.0,741.2 316.3,741.5 316.6,741.3 316.9,741.3 317.1,741.5 317.4,741.2 317.7,741.0 317.9,741.1 318.2,741.3 318.5,741.6 318.8,741.9 319.1,742.4 319.3,742.6 319.6,742.5 319.9,742.6 320.1,742.8 320.4,743.0 320.7,742.8 321.0,742.7 321.3,742.4 321.6,742.2 321.8,742.3 322.1,742.1 322.4,741.8 322.7,741.6 323.0,741.3 323.2,741.5 323.5,741.5 323.8,741.5 324.1,741.2 324.4,741.1 324.7,741.2 325.0,740.9 325.3,741.1 325.6,740.9 325.9,741.0 326.2,741.1 326.5,741.0 326.8,741.1 327.1,741.3 327.4,741.7 327.7,741.8 328.0,742.2 328.3,742.3 328.6,742.3 328.9,742.5 329.2,742.4 329.5,742.5 329.8,742.7 330.1,742.9 330.4,743.0 330.7,742.8 330.9,743.0 331.2,743.1 331.5,743.1 331.8,743.0 332.1,743.1 332.4,743.2 332.7,743.4 333.0,743.4 333.3,743.7 333.6,743.7 333.9,743.9 334.2,744.0 334.5,744.2 334.8,744.2 335.1,744.2 335.4,744.2 335.7,744.1 336.0,744.1 336.3,743.9 336.6,744.1 336.9,744.4 337.2,744.3 337.5,744.5 337.8,744.4 338.1,744.3 338.3,744.3 338.6,744.3 338.9,744.5 339.1,744.2 339.4,744.0 339.7,744.1 340.0,744.1 340.2,744.5 340.5,744.6 340.8,744.5 341.1,744.7 341.4,744.1 341.6,743.7 341.9,744.1 342.2,744.0 342.5,743.9 342.8,743.8 343.1,743.6 343.4,743.5 343.6,743.2 343.9,743.3 344.2,743.4 344.5,743.5 344.8,743.3 345.0,742.9 345.3,742.8 345.6,742.6 345.9,742.6 346.1,742.3 346.4,742.1 346.7,742.1 346.9,742.2 347.2,742.2 347.5,741.9 347.8,741.7 348.1,742.0 348.4,742.1 348.7,741.9 349.0,742.2 349.3,742.1 349.6,742.0 349.9,741.8 350.2,742.0 350.5,741.9 350.8,741.8 351.1,741.6 351.4,741.3 351.7,741.3 352.0,741.2 352.3,741.4 352.6,741.2 352.9,741.1 353.2,741.2 353.5,741.3 353.8,741.2 354.1,741.4 354.4,741.4 354.7,741.5 355.0,741.5 355.3,741.6 355.6,741.5 355.9,741.4 356.2,741.6 356.5,741.6 356.8,741.8 357.1,742.1 357.3,742.3 357.6,742.5 357.9,742.2 358.1,742.2 358.4,742.5 358.7,742.4 359.0,742.5 359.2,742.6 359.5,742.7 359.8,743.0 360.1,742.8 360.4,742.6 360.6,742.5 360.9,742.2 361.2,741.8 361.4,741.6 361.7,741.5 362.0,741.2 362.3,740.9 362.6,740.8 362.9,740.8 363.1,740.8 363.4,741.1 363.7,741.0 364.0,740.9 364.3,740.5 364.5,740.6 364.8,740.7 365.1,740.7 365.4,740.5 365.7,740.0 365.9,740.1 366.2,739.9 366.5,740.1 366.8,740.2 367.0,740.4 367.3,740.3 367.6,740.5 367.9,740.2 368.1,740.4 368.4,740.4 368.7,740.1 369.0,739.9 369.3,739.7 369.6,739.6 369.8,739.4 370.1,739.0 370.4,738.9 370.7,738.7 371.0,738.7 371.2,738.7 371.5,738.8 371.8,738.8 372.1,739.0 372.4,738.7 372.7,738.9 372.9,739.3 373.2,739.2 373.5,739.4 373.8,739.6 374.0,739.5 374.3,739.6 374.6,739.3 374.9,738.8 375.1,738.7 375.4,738.7 375.7,738.3 375.9,737.6 376.2,737.2 376.5,736.7 376.8,736.7 377.1,736.8 377.4,736.9 377.6,737.1 377.9,737.5 378.2,737.9 378.5,738.2 378.8,738.3 379.1,738.4 379.4,738.4 379.6,738.4 379.9,738.3 380.2,737.7 380.5,737.9 380.7,737.8 381.0,737.7 381.3,737.7 381.6,737.7 381.8,737.6 382.1,737.9 382.4,738.0 382.7,738.2 383.0,738.1 383.2,738.2 383.5,738.4 383.8,738.5 384.1,738.7 384.4,738.6 384.6,738.8 384.9,738.7 385.2,738.7 385.5,738.7 385.8,738.9 386.1,739.2 386.3,739.4 386.6,739.4 386.9,739.6 387.1,739.9 387.4,740.2 387.7,740.4 388.0,740.4 388.2,740.4 388.5,740.4 388.8,740.5 389.1,740.6 389.4,740.6 389.6,740.6 389.9,740.7 390.2,740.7 390.4,740.6 390.7,740.7 391.0,740.5 391.3,740.0 391.5,739.4 391.8,738.8 392.0,738.4 392.3,738.0 392.5,737.7 392.8,737.4 393.1,736.6 393.4,736.4 393.7,736.1 394.0,735.3 394.2,734.6 394.5,733.9 394.8,733.4 395.1,732.9 395.4,733.0 395.7,732.6 396.0,733.1 396.3,733.4 396.5,733.6 396.8,733.5 397.1,733.6 397.4,733.8 397.7,733.8 398.0,734.0 398.3,734.1 398.6,734.4 398.8,734.4 399.1,734.7 399.4,734.5 399.7,734.8 400.0,734.9 400.2,734.8 400.5,735.0 400.8,735.0 401.1,735.2 401.4,735.0 401.7,734.9 402.0,734.9 402.3,734.8 402.6,734.9 402.9,734.7 403.2,734.4 403.5,734.1 403.8,733.8 404.1,733.2 404.4,732.9 404.7,732.7 405.0,732.7 405.2,732.6 405.5,732.6 405.8,732.4 406.1,732.4 406.4,732.4 406.7,732.7 406.9,732.8 407.2,733.0 407.5,732.9 407.8,732.9 408.1,732.7 408.4,732.7 408.6,732.9 408.9,732.9 409.2,732.9 409.5,732.9 409.7,733.3 410.0,733.3 410.3,733.6 410.6,733.7 410.8,733.9 411.1,733.8 411.4,733.7 411.7,734.0 412.0,734.1 412.2,734.3 412.5,734.6 412.8,734.9 413.1,735.0 413.4,735.0 413.6,735.0 413.9,735.1 414.2,735.4 414.5,735.6 414.8,735.7 415.1,735.6 415.3,735.6 415.6,735.8 415.9,735.7 416.1,735.6 416.4,735.8 416.7,736.1 417.0,736.2 417.2,736.2 417.5,736.1 417.8,736.1 418.1,735.8 418.4,735.6 418.6,735.5 418.9,735.4 419.2,735.5 419.5,735.1 419.8,734.7 420.1,734.7 420.4,734.7 420.6,734.4 420.9,734.2 421.2,733.8 421.5,733.3 421.7,732.8 422.0,732.5 422.2,731.8 422.5,731.0 422.7,730.6 423.0,730.0 423.3,730.6 423.6,730.6 423.8,730.8 424.1,730.6 424.4,731.1 424.6,731.7 424.9,732.1 425.2,732.3 425.5,731.8 425.8,731.3 426.1,731.1 426.4,731.2 426.7,731.2 427.0,731.0 427.3,730.9 427.6,730.8 427.9,730.7 428.2,730.5 428.4,730.4 428.7,730.6 429.0,730.7 429.3,730.6 429.5,731.1 429.8,731.1 430.1,731.0 430.4,731.2 430.6,731.3 430.9,731.3 431.2,731.6 431.4,731.9 431.7,731.9 431.9,732.1 432.2,732.3 432.5,732.2 432.8,732.2 433.1,732.1 433.3,731.9 433.6,732.0 433.9,731.7 434.2,731.5 434.5,731.3 434.8,731.3 435.0,731.2 435.3,731.4 435.6,731.6 435.9,731.6 436.2,731.7 436.5,731.8 436.8,731.9 437.1,732.1 437.4,732.5 437.7,733.0 438.0,733.4 438.3,733.3 438.6,733.3 438.9,733.4 439.2,733.4 439.5,733.4 439.8,733.6 440.0,733.5 440.3,733.4 440.6,733.9 440.9,734.0 441.2,734.4 441.4,734.3 441.7,734.6 442.0,734.9 442.3,735.2 442.6,735.2 442.9,735.3 443.1,735.3 443.4,735.2 443.7,735.3 444.0,735.4 444.2,735.5 444.5,735.5 444.8,735.7 445.1,735.7 445.3,735.9 445.6,736.1 445.9,736.0 446.2,735.8 446.5,735.4 446.8,735.1 447.1,734.8 447.4,734.7 447.7,734.5 447.9,734.6 448.2,734.3 448.5,734.5 448.8,734.5 449.1,734.6 449.3,734.8 449.6,735.2 449.9,736.8 450.2,738.6 450.5,740.1 450.8,740.1 451.1,740.0 451.4,740.1 451.6,740.1 451.9,740.1 452.2,739.9 452.5,739.9 452.8,739.7 453.1,739.7 453.4,739.5 453.6,739.5 453.9,739.7 454.2,740.2 454.5,740.5 454.8,740.7 455.1,740.9 455.4,741.2 455.7,741.1 456.0,741.2 456.3,740.9 456.6,740.8 456.9,741.0 457.2,740.7 457.5,740.7 457.8,740.7 458.1,740.6 458.4,740.7 458.7,740.7 459.0,740.5 459.3,740.6 459.6,740.5 459.9,740.9 460.2,741.0 460.5,741.3 460.8,741.3 461.1,741.8 461.4,742.1 461.7,742.3 462.0,742.1 462.2,742.0 462.5,741.6 462.7,741.4 463.0,741.1 463.2,740.9 463.5,741.0 463.8,741.2 464.1,741.2 464.3,741.3 464.6,741.2 464.9,741.1 465.1,740.8 465.4,740.6 465.7,740.3 466.0,740.3 466.2,740.3 466.5,740.3 466.8,740.5 467.1,740.7 467.4,740.8 467.6,740.8 467.9,740.9 468.2,741.1 468.5,741.1 468.8,740.9 469.1,741.0 469.4,741.3 469.6,741.6 469.9,741.8 470.2,741.6 470.5,741.6 470.8,741.8 471.0,742.1 471.3,742.5 471.6,742.3 471.9,742.5 472.1,742.3 472.4,742.3 472.7,742.3 472.9,742.5 473.2,742.6 473.5,742.3 473.8,742.0 474.1,741.9 474.3,741.9 474.6,741.6 474.9,741.2 475.1,740.8 475.4,740.8 475.7,740.5 476.0,740.6 476.3,740.8 476.6,740.8 476.9,741.1 477.2,740.9 477.5,741.3 477.8,741.3 478.1,741.3 478.4,741.2 478.7,741.1 479.0,741.1 479.3,741.1 479.6,741.0 479.9,741.0 480.2,741.2 480.5,741.1 480.8,741.2 481.1,741.1 481.4,741.2 481.7,741.2 482.0,741.0 482.3,741.1 482.6,741.1 482.9,741.0 483.2,741.1 483.5,741.2 483.8,741.0 484.1,741.0 484.4,741.2 484.7,741.2 485.0,741.4 485.3,741.8 485.6,741.6 485.9,741.7 486.2,741.6 486.5,741.9 486.8,742.0 487.0,741.8 487.3,742.0 487.6,742.0 487.9,742.0 488.2,742.0 488.5,742.1 488.8,741.9 489.1,741.9 489.4,741.8 489.6,741.2 489.9,740.8 490.2,740.5 490.4,740.0 490.7,739.6 491.0,739.6 491.3,739.4 491.6,739.3 491.8,739.1 492.1,739.0 492.4,739.0 492.7,739.0 493.0,739.0 493.3,739.0 493.6,739.1 493.8,738.9 494.1,738.8 494.4,739.1 494.7,739.0 495.0,738.9 495.3,738.9 495.6,738.7 495.9,738.7 496.2,738.7 496.5,738.6 496.8,738.7 497.1,738.8 497.4,738.5 497.7,738.4 498.0,738.3 498.3,738.0 498.6,738.1 498.9,738.4 499.2,738.5 499.5,738.7 499.8,738.2 500.1,738.1 500.4,737.8 500.7,737.8 501.0,737.7 501.3,737.6 501.5,737.6 501.8,737.7 502.1,737.9 502.4,738.1 502.7,738.2 503.0,737.8 503.3,738.0 503.6,737.9 503.9,737.4 504.2,737.2 504.5,736.9 504.8,736.7 505.1,736.6 505.4,736.2 505.7,736.0 506.0,736.0 506.3,735.6 506.6,735.9 506.9,735.9 507.2,735.9 507.5,736.1 507.8,736.2 508.0,735.9 508.3,735.9 508.6,736.1 508.9,736.1 509.2,736.1 509.5,736.3 509.8,736.5 510.1,736.6 510.4,736.6 510.6,736.9 510.9,737.4 511.2,737.1 511.5,737.4 511.8,736.8 512.1,735.9 512.4,735.4 512.7,734.4 513.0,733.8 513.3,734.0 513.6,734.1 513.9,733.5 514.2,733.4 514.5,733.1 514.7,733.1 515.0,733.2 515.3,733.1 515.6,733.3 515.9,732.9 516.2,732.9 516.4,732.9 516.7,733.1 517.0,733.5 517.2,733.4 517.5,733.4 517.8,734.0 518.1,734.1 518.4,734.7 518.7,734.9 519.0,735.3 519.3,736.1 519.6,736.0 519.8,736.1 520.1,735.9 520.4,736.0 520.7,736.3 521.0,736.4 521.2,736.1 521.5,736.2 521.8,736.5 522.0,736.3 522.3,736.3 522.6,736.1 522.9,736.2 523.2,736.1 523.5,736.0 523.7,736.3 524.0,736.4 524.3,736.2 524.6,736.2 524.9,736.2 525.1,736.2 525.4,736.4 525.7,736.5 526.0,736.7 526.3,736.6 526.6,736.7 526.9,736.8 527.2,736.9 527.5,737.0 527.8,737.1 528.1,737.2 528.4,737.7 528.7,737.8 529.0,737.7 529.3,737.9 529.6,737.8 529.9,737.9 530.1,738.1 530.4,738.5 530.7,738.5 531.0,738.2 531.3,738.5 531.6,738.7 531.9,739.0 532.1,739.0 532.4,739.0 532.7,739.0 533.0,738.7 533.3,738.9 533.6,738.7 533.9,738.6 534.2,738.7 534.5,738.6 534.8,738.7 535.1,738.6 535.4,739.0 535.7,739.3 536.0,739.4 536.3,739.5 536.6,739.6 536.9,739.6 537.1,739.4 537.4,739.4 537.7,739.3 538.0,739.3 538.3,739.4 538.5,739.2 538.8,739.0 539.1,739.0 539.4,739.0 539.7,739.1 540.0,739.4 540.2,739.3 540.5,739.3 540.8,739.2 541.0,739.1 541.3,739.3 541.6,739.2 541.9,739.2 542.2,739.1 542.4,738.9 542.7,739.0 543.0,738.8 543.2,738.9 543.5,738.5 543.8,738.4 544.1,738.6 544.4,738.3 544.6,738.2 544.9,738.3 545.2,739.0 545.4,739.5 545.7,740.1 546.0,740.8 546.2,741.3 546.5,741.9 546.8,742.0 547.1,741.8 547.4,742.1 547.6,742.0 547.9,742.0 548.2,742.1 548.5,742.4 548.8,742.3 549.1,742.7 549.4,743.1 549.6,743.2 549.9,743.0 550.2,742.8 550.5,742.8 550.8,742.9 551.1,743.1 551.4,743.4 551.7,743.6 552.0,743.7 552.3,743.9 552.6,743.6 552.9,743.9 553.2,743.7 553.5,743.4 553.8,743.4 554.1,743.4 554.4,743.3 554.7,743.3 555.0,743.4 555.3,743.5 555.6,743.5 555.9,743.4 556.2,743.4 556.5,743.6 556.8,743.5 557.1,743.5 557.3,743.1 557.6,743.1 557.9,743.4 558.2,743.5 558.5,743.5 558.8,743.7 559.1,743.9 559.4,744.1 559.7,743.9 559.9,743.7 560.2,743.8 560.5,743.9 560.8,744.0 561.0,743.8 561.3,743.9 561.6,744.3 561.8,744.5 562.1,745.0 562.4,745.8 562.7,746.5 562.9,747.5 563.2,748.3 563.5,748.6 563.8,748.3 564.1,748.3 564.4,748.2 564.7,748.5 564.9,748.8 565.2,749.0 565.5,748.9 565.8,748.9 566.1,749.0 566.4,748.8 566.7,748.8 567.0,748.7 567.2,748.7 567.5,748.5 567.8,748.3 568.1,747.6 568.4,747.2 568.7,746.9 569.0,747.0 569.2,746.7 569.5,746.5 569.8,746.6 570.0,746.6 570.3,746.8 570.6,746.8" fill="none" stroke="#ff6c2c" stroke-width="0.9" stroke-linejoin="round"/>
<rect x="589" y="0" width="2" height="975" fill="#b1b1b1"/>
<rect x="0" y="974" width="591" height="1.5" fill="#b1b1b1"/>
<rect x="98.1" y="975" width="1.8" height="5" fill="#b1b1b1"/>
<rect x="212.3" y="975" width="1.8" height="5" fill="#b1b1b1"/>
<rect x="326.4" y="975" width="1.8" height="5" fill="#b1b1b1"/>
<rect x="440.5" y="975" width="1.8" height="5" fill="#b1b1b1"/>
<rect x="554.6" y="975" width="1.8" height="5" fill="#b1b1b1"/>
<polygon points="590,17.900000000000002 593.2,20.1 590,22.3" fill="#6b6b6b"/>
<polygon points="590,27.1 593.2,29.3 590,31.5" fill="#6b6b6b"/>
<polygon points="590,52.4 593.2,54.6 590,56.800000000000004" fill="#6b6b6b"/>
<polygon points="590,82.7 593.2,84.9 590,87.10000000000001" fill="#6b6b6b"/>
<polygon points="590,119.2 593.2,121.4 590,123.60000000000001" fill="#6b6b6b"/>
<polygon points="590,166.9 593.2,169.1 590,171.29999999999998" fill="#6b6b6b"/>
<polygon points="590,233.9 593.2,236.1 590,238.29999999999998" fill="#6b6b6b"/>
<polygon points="590,369.3 593.2,371.5 590,373.7" fill="#6b6b6b"/>
<polygon points="590,432.1 593.2,434.3 590,436.5" fill="#6b6b6b"/>
<polygon points="590,495.0 593.2,497.2 590,499.4" fill="#6b6b6b"/>
<polygon points="590,557.8 593.2,560.0 590,562.2" fill="#6b6b6b"/>
<polygon points="590,620.5999999999999 593.2,622.8 590,625.0" fill="#6b6b6b"/>
<polygon points="590,663.0999999999999 593.2,665.3 590,667.5" fill="#6b6b6b"/>
<polygon points="590,708.5 593.2,710.7 590,712.9000000000001" fill="#6b6b6b"/>
<polygon points="590,753.8 593.2,756.0 590,758.2" fill="#6b6b6b"/>
<polygon points="590,799.1999999999999 593.2,801.4 590,803.6" fill="#6b6b6b"/>
<polygon points="590,844.5999999999999 593.2,846.8 590,849.0" fill="#6b6b6b"/>
<polygon points="590,889.9 593.2,892.1 590,894.3000000000001" fill="#6b6b6b"/>
<polygon points="590,935.3 593.2,937.5 590,939.7" fill="#6b6b6b"/>
</svg>
<div class="lg" style="top:8px;width:379px"><div class="bar" style="background:#1282ff"></div><span class="b" style="left:9.5px;letter-spacing:-0.4px">NXST</span><span class="b" style="left:49.6px;letter-spacing:-0.32px">Nexstar Media Group, Inc.</span><span class="" style="left:202.9px;letter-spacing:-0.06px">Dividend Yield (Ind)</span><span class="b" style="left:324.1px;letter-spacing:-0.2px">Upgrade</span></div>
<div class="lg" style="top:333px;width:364px"><div class="bar" style="background:#8308ff"></div><span class="b" style="left:9.5px;letter-spacing:-0.4px">NXST</span><span class="b" style="left:49.6px;letter-spacing:-0.32px">Nexstar Media Group, Inc.</span><span class="" style="left:203.0px;letter-spacing:-0.17px">Buyback Yield (LTM)</span><span class="b" style="left:321.8px;letter-spacing:0.2px">2.26%</span></div>
<div class="lg" style="top:658px;width:385px"><div class="bar" style="background:#ff6a26"></div><span class="b" style="left:9.5px;letter-spacing:-0.4px">NXST</span><span class="b" style="left:49.6px;letter-spacing:-0.32px">Nexstar Media Group, Inc.</span><span class="" style="left:202.6px;letter-spacing:-0.1px">Shareholder Yield (LTM)</span><span class="b" style="left:342.1px;letter-spacing:0.2px">9.93%</span></div>
<div class="yl" style="top:13.6px">7.39%</div>
<div class="yl" style="top:22.8px">7.00%</div>
<div class="yl" style="top:48.1px">6.00%</div>
<div class="yl" style="top:78.4px">5.00%</div>
<div class="yl" style="top:114.9px">4.00%</div>
<div class="yl" style="top:162.6px">3.00%</div>
<div class="yl" style="top:229.6px">2.00%</div>
<div class="yl" style="top:365.0px">20.00%</div>
<div class="yl" style="top:427.8px">15.00%</div>
<div class="yl" style="top:490.7px">10.00%</div>
<div class="yl" style="top:553.5px">5.00%</div>
<div class="yl" style="top:616.3px">0.00%</div>
<div class="yl" style="top:658.8px">100.00%</div>
<div class="yl" style="top:704.2px">50.00%</div>
<div class="yl" style="top:749.5px">0.00%</div>
<div class="yl" style="top:794.9px">-50.00%</div>
<div class="yl" style="top:840.3px">-100.00%</div>
<div class="yl" style="top:885.6px">-150.00%</div>
<div class="yl" style="top:931.0px">-200.00%</div>
<div class="vb" style="top:107px;background:rgba(10,128,255,.9);border-color:#0a80ff"><div><span style="letter-spacing:.2px">Div Yld (Ind)</span><br><span style="letter-spacing:.5px;padding-left:6px">Upgrade</span></div></div>
<div class="vb" style="top:581px;background:rgba(130,0,255,.9);border-color:#8000ff"><div><span style="letter-spacing:.17px">Buyback Yield (LTM)</span><br><span style="letter-spacing:.75px">2.26%</span></div></div>
<div class="vb" style="top:734px;background:rgba(255,112,48,.86);border-color:#ff6e2e"><div><span style="letter-spacing:.15px">Shr Yld (LTM)</span><br><span style="letter-spacing:.75px">9.93%</span></div></div>
<div class="xl" style="left:78.8px;width:40px;text-align:center">2018</div>
<div class="xl" style="left:193.0px;width:40px;text-align:center">2020</div>
<div class="xl" style="left:307.2px;width:40px;text-align:center">2022</div>
<div class="xl" style="left:421.3px;width:40px;text-align:center">2024</div>
<div class="xl" style="left:535.4px;width:40px;text-align:center">2026</div>
</body></html>
